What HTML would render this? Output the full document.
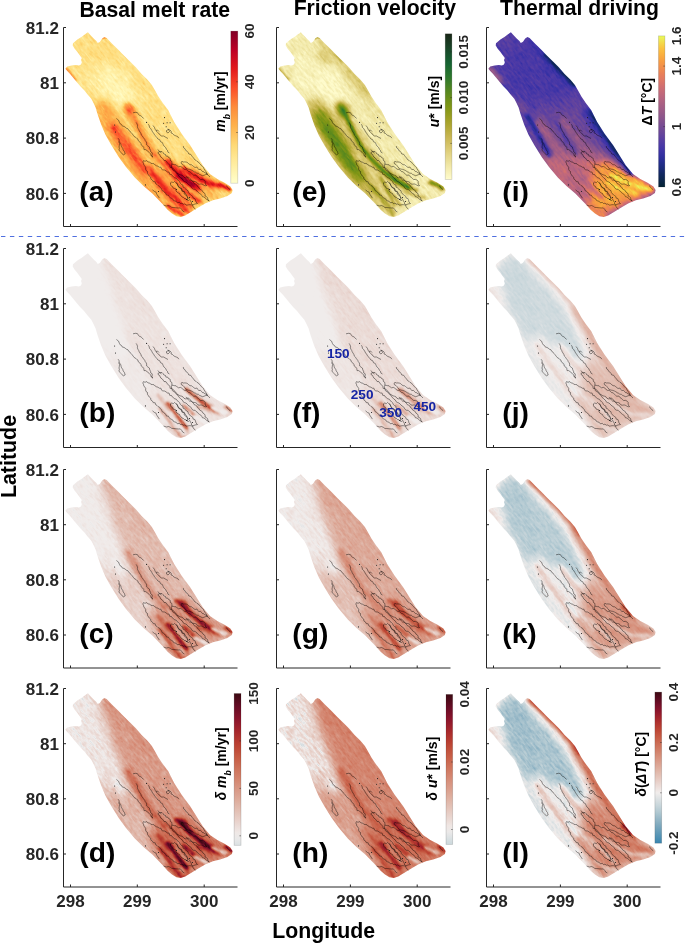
<!DOCTYPE html><html><head><meta charset="utf-8"><style>html,body{margin:0;padding:0;background:#fff;width:685px;height:943px;overflow:hidden}svg{display:block;will-change:transform}text{font-family:"Liberation Sans", sans-serif}</style></head><body>
<svg width="685" height="943" viewBox="0 0 685 943">
<defs><path id="gl" d="M24.4 4.8 L27.8 8.5 L30.7 11.4 L32.9 13.6 L34.3 15.5 L36.5 14.3 L38.7 11.1 L40.9 9.6 L43.1 10.6 L48.9 16.5 L54.8 22.3 L60.6 28.2 L66.5 34.0 L72.3 39.8 L78.1 46.4 L84.0 52.3 L88.4 57.4 L91.3 62.5 L94.9 69.0 L99.3 75.6 L104.8 82.7 L110.7 94.4 L118.0 106.1 L126.7 117.7 L139.2 137.7 L146.5 146.5 L153.8 151.6 L161.1 155.3 L166.9 158.9 L169.1 162.6 L168.4 165.5 L164.0 168.4 L156.7 171.0 L149.4 172.8 L142.1 175.7 L134.8 180.1 L127.5 184.5 L121.7 188.1 L117.3 189.6 L112.9 188.8 L108.5 185.9 L104.1 182.3 L99.5 177.0 L88.8 165.9 L80.0 158.6 L71.3 149.9 L62.5 139.6 L55.2 129.4 L47.9 117.7 L42.1 107.5 L37.7 97.3 L34.0 86.5 L32.1 80.0 L30.0 75.6 L27.8 71.2 L24.1 66.9 L20.5 62.5 L16.8 58.8 L13.2 54.5 L9.5 50.1 L6.6 46.4 L3.7 43.5 L1.9 41.3 L3.7 39.1 L8.1 38.0 L12.4 37.4 L15.4 38.0 L17.5 36.9 L18.3 34.7 L17.5 32.5 L18.3 30.4 L16.1 27.4 L13.9 24.5 L11.0 20.9 L9.2 18.0 L9.5 15.8 L13.9 12.1 L18.3 9.2 L21.2 7.0Z"/><clipPath id="glc"><use href="#gl"/></clipPath><g id="ct"><path d="M69.5,85.3 72.2,84.8 73.9,85.1 74.8,86.6 75.9,87.8 77.4,88.3 78.8,89.6 80.0,91.0M52.9,91.0 55.1,92.7 55.9,94.9 56.7,96.3 58.1,97.1 58.9,98.6 60.5,98.9 61.7,99.7 62.9,100.7 64.5,101.3 65.2,102.8 66.6,103.7 67.5,105.1 68.7,106.3 69.7,107.7 70.7,109.0 72.2,109.8 73.2,110.9 74.5,111.7 74.8,113.3 76.3,114.4 77.4,115.9 77.8,117.6 79.2,118.5 80.3,120.1 80.5,122.1 82.2,122.1 84.4,123.8 85.8,125.0 87.1,126.4 87.7,128.4 89.5,129.6 88.3,128.5 88.7,126.9 88.7,125.3 87.2,124.4 87.1,122.9 86.3,121.4 85.9,119.6 84.4,118.5 83.2,117.5 83.1,115.9 82.8,114.4 81.8,113.3 81.2,111.7 80.0,110.4 79.2,108.9 77.9,107.7 77.4,106.0 76.5,104.5 75.7,103.3 75.2,101.9 74.4,100.7 73.9,99.3 74.0,97.7 73.4,96.2 72.6,94.9M54.6,110.7 55.5,112.0 55.7,113.6 56.4,115.0 57.3,116.3 57.6,117.9 58.1,119.4 59.2,120.7 59.7,122.5 60.8,123.8 61.7,126.4 59.9,127.3 58.6,126.3 57.5,125.0 56.4,123.8 55.4,122.5 55.9,121.0 55.5,119.5 55.8,118.0 56.0,115.9 55.0,114.0M84.4,96.7 85.7,97.9 85.9,99.8 87.1,101.0 88.2,102.7 89.1,104.5 90.1,105.6 90.7,107.0 91.8,108.0 92.6,109.2 93.6,110.3 94.4,111.5 96.3,112.3 97.0,114.2 98.8,115.0 99.6,116.8 100.2,118.2 101.4,119.2 102.3,120.3 102.9,121.8 104.0,122.9 104.4,124.6 106.0,125.5M89.5,98.0 91.0,100.0 91.5,101.6 92.5,103.0 93.0,104.0 95.0,105.5 96.5,107.5 98.0,108.5 100.0,108.5 102.3,109.8 104.5,111.0M92.5,103.0 94.0,102.5 95.5,104.0M104.0,101.5 106.5,102.5 107.7,103.7 107.5,105.4 109.0,106.0 110.1,107.2 111.4,108.0 112.8,108.5 114.4,109.3 115.4,110.7M103.0,103.0 103.1,104.6 104.5,105.5 106.0,104.0 105.0,102.0 103.0,103.0M119.8,118.5 120.0,120.2 121.5,121.2 122.1,122.8 123.6,123.7 124.6,125.0 125.3,126.5 127.2,126.8 128.1,128.1 129.0,129.4 130.1,130.5 130.9,131.9 132.3,132.7 133.4,133.8 134.9,134.5 135.8,135.8 136.9,136.8 137.8,138.1 138.9,139.0 140.0,140.0 140.5,141.3 141.3,142.5 142.2,143.8 143.0,145.1 143.5,146.7 144.8,147.8 146.5,149.5M117.6,134.6 118.5,133.8 119.9,134.5 121.4,134.4 122.9,134.6 124.2,135.2 125.3,136.3 126.5,137.2 128.1,137.3 129.2,138.2 130.3,139.1 131.5,140.0 133.4,139.5 134.3,140.8 135.2,142.0 136.9,141.9 138.0,142.9 138.9,144.0 140.4,144.3 141.4,145.4 143.1,145.6 143.9,146.9 142.1,147.1 140.4,147.8 138.8,148.2 137.4,147.4 136.0,146.9 134.9,145.8 133.3,145.7 132.2,144.8 130.8,144.3 129.4,143.3 127.9,142.5 126.3,141.9 124.6,141.6 122.7,141.0 121.7,139.4 120.3,138.1 119.4,137.0 117.9,136.2 117.6,134.6M108.4,136.6 109.8,136.9 111.2,137.2 112.6,137.3 113.7,138.5 115.0,139.3 117.0,138.9 118.3,139.7 119.5,140.8 120.8,141.8 122.6,141.9 123.9,142.8 125.0,144.1 126.7,144.3 127.8,145.6 129.0,146.8 130.3,147.8 132.4,147.5 133.4,149.0 134.8,149.8 135.9,151.0 137.2,152.1 139.1,151.9 140.6,152.6 141.7,153.9 141.6,155.5 142.0,156.9 143.1,158.1 141.6,158.3 140.3,157.6 139.0,156.9 137.6,156.4 136.1,156.7 134.5,156.5 133.5,155.1 132.2,154.2 130.6,153.9 128.9,153.8 127.8,152.6 126.1,152.6 124.9,151.5 123.9,150.1 121.9,150.4 120.5,149.8 119.5,148.4 118.0,147.7 116.4,147.3 115.1,146.4 113.6,145.7 112.6,144.2 111.6,143.1 110.7,141.9 109.4,141.2 108.4,140.1 107.8,138.3 108.4,136.6M94.5,124.8 96.4,124.1 98.5,124.0 99.6,125.1 100.4,126.5 102.0,127.0 102.4,128.6 104.3,128.7 105.0,130.0 106.7,130.8 106.9,133.0 108.4,134.0 108.4,136.6M94.5,124.8 94.8,126.3 96.2,127.0 96.7,128.4 97.4,129.6 98.7,130.4 99.7,131.6 100.5,133.0 102.5,133.2 103.4,134.5 104.2,135.9 105.4,136.8 106.5,137.9 106.5,139.8 108.5,140.1 108.7,141.9 109.8,142.9 111.4,143.5 112.2,144.9 113.2,146.1 114.6,146.9 115.3,148.4 116.4,149.5 117.5,150.7 118.9,151.6 119.5,153.1 120.9,154.0 122.4,154.5 123.5,155.4 124.5,156.6 125.6,157.5 126.9,158.2 127.8,159.5 128.6,160.9 129.8,161.7 131.7,161.8 132.6,163.0 133.9,163.7 134.8,165.0 136.0,165.9 137.3,166.6 138.2,167.8 139.0,169.3 140.7,169.5 141.7,170.6 142.9,171.7 144.3,172.6 145.8,173.4M80.0,133.1 81.5,133.8 83.3,133.1 84.6,134.5 86.2,134.5 87.3,135.8 88.9,136.0 90.5,136.3 91.6,137.5 93.0,138.3 94.5,138.7 95.7,139.7 97.4,139.7 98.0,141.6 99.3,142.4 101.0,142.5 102.5,143.3 103.7,144.4 105.6,144.6 106.2,146.8 108.0,147.0 108.8,148.4 110.1,149.2 111.0,150.3 112.7,150.6 113.5,152.0 114.9,153.0 116.1,154.2 116.8,155.9 118.0,157.0 119.5,157.7 119.5,159.6 121.0,160.3 122.1,161.3 123.0,162.5 124.5,163.2 124.8,164.9 125.6,166.1 126.8,167.0 128.0,168.0 129.3,168.9 129.7,170.6 131.4,171.0 132.0,172.5 132.5,174.5 134.0,176.0 132.0,176.4 130.0,177.0 128.5,177.5 127.0,177.2 125.5,177.2 124.0,177.5 122.5,177.6 121.3,176.4 119.8,176.7 118.5,175.7 117.0,176.0 115.8,174.9 113.8,175.3 112.7,173.8 111.2,173.4 109.9,172.8 109.2,171.4 107.9,170.8 106.7,170.1 105.6,169.2 104.9,167.7 102.9,167.5 102.4,165.8 101.0,165.0 100.1,163.7 98.5,163.1 98.1,161.2 96.8,160.3 96.1,158.8 94.5,158.1 93.5,156.9 92.1,156.1 91.7,154.3 89.7,154.1 89.0,152.6 87.4,151.6 87.2,149.6 85.7,148.5 84.8,147.0 83.9,145.7 84.0,144.0 82.5,143.0 82.1,141.5 82.2,139.9 81.3,138.6 80.3,137.4 80.0,135.9 79.3,134.5 80.0,133.1M107.0,155.3 108.2,154.5 109.9,155.1 111.0,154.0 112.1,155.0 113.4,155.9 114.2,157.2 115.0,158.5 115.6,160.2 117.7,160.7 118.0,162.7 119.5,163.7 120.8,164.6 120.7,166.5 122.1,167.3 123.0,168.5 124.3,169.7 123.7,171.8 125.0,173.0 123.6,172.5 122.5,171.3 121.0,171.0 120.0,170.0 118.5,169.5 117.6,168.4 116.6,167.4 116.0,166.0 114.6,165.4 113.5,164.5 112.5,163.5 112.5,161.5 111.0,161.0 109.5,160.5 109.0,159.0 107.6,158.4 107.0,157.0 107.0,155.3M112.6,155.3 113.8,156.1 114.0,157.8 114.7,159.1 116.2,159.8 117.0,160.9 118.6,161.5 118.5,163.7 120.7,163.7 121.4,165.2 122.3,166.4 123.3,167.8 123.8,169.6 125.0,170.9 126.4,172.0 126.9,173.5 127.9,174.7 128.0,176.4 129.2,177.5 129.6,179.2 130.6,180.6 132.0,181.7M122.3,148.4 123.5,149.6 125.4,149.7 126.4,151.2 127.7,152.1 128.7,153.4 129.8,154.5 130.5,156.0 132.0,156.7 133.4,157.5 134.0,159.1 135.4,159.9 136.1,161.5 137.5,162.3 138.8,163.1 139.4,164.6 140.8,165.4 141.6,166.6 141.6,168.5 143.1,169.2 144.2,170.4 144.4,172.3 145.8,173.4M100.1,177.5 101.5,178.0 103.0,178.5 105.1,178.0 107.0,178.9 108.3,179.9 110.0,180.0 112.6,180.3 115.0,180.5 116.8,180.4 118.1,181.7 119.1,183.5 120.9,184.5M89.0,162.3 91.0,164.0 92.6,164.7 93.1,166.4 94.5,168.5 95.9,170.6M162.5,158.1 164.5,160.0 165.4,161.3 166.7,162.3M94.4,122.0 96.0,124.0 98.0,125.5" fill="none" stroke="#000" stroke-width="0.48" stroke-linejoin="miter" stroke-opacity="0.9"/><g fill="#1a1a1a"><circle cx="101.0" cy="90.1" r="0.55"/><circle cx="100.1" cy="95.8" r="0.55"/><circle cx="103.6" cy="95.3" r="0.55"/><circle cx="106.6" cy="95.3" r="0.55"/><circle cx="102.7" cy="99.3" r="0.55"/><circle cx="51.1" cy="97.5" r="0.55"/><circle cx="52.0" cy="104.5" r="0.55"/><circle cx="81.9" cy="157.4" r="0.55"/><circle cx="83.1" cy="94.9" r="0.55"/><circle cx="95.0" cy="164.0" r="0.55"/><circle cx="123.0" cy="172.0" r="0.55"/><circle cx="126.0" cy="170.0" r="0.55"/><circle cx="129.0" cy="174.0" r="0.55"/><circle cx="113.0" cy="162.0" r="0.55"/></g></g><filter id="cm_a" filterUnits="userSpaceOnUse" x="-10" y="-150" width="290" height="290" color-interpolation-filters="sRGB"><feTurbulence type="fractalNoise" baseFrequency="0.06 0.5" numOctaves="2" seed="3" result="n1"/><feTurbulence type="fractalNoise" baseFrequency="0.22 0.55" numOctaves="2" seed="14" result="n2"/><feComposite in="n1" in2="n2" operator="arithmetic" k1="0" k2="0.5" k3="0.5" k4="0" result="n"/><feColorMatrix in="n" type="matrix" values="1 0 0 0 0  1 0 0 0 0  1 0 0 0 0  0 0 0 0 1" result="ng"/><feComposite in="SourceGraphic" in2="ng" operator="arithmetic" k1="0" k2="1" k3="0.390" k4="-0.195" result="s"/><feComponentTransfer in="s"><feFuncR type="table" tableValues="1.000 1.000 1.000 1.000 1.000 1.000 1.000 0.999 0.999 0.998 0.997 0.997 0.996 0.996 0.996 0.996 0.996 0.996 0.996 0.995 0.995 0.994 0.993 0.993 0.992 0.991 0.991 0.990 0.990 0.989 0.988 0.971 0.956 0.940 0.922 0.906 0.891 0.863 0.840 0.817 0.793 0.765 0.742 0.705 0.660 0.622 0.585 0.539 0.502"/><feFuncG type="table" tableValues="1.000 0.989 0.976 0.965 0.953 0.940 0.929 0.917 0.904 0.890 0.877 0.865 0.850 0.826 0.802 0.773 0.749 0.725 0.696 0.674 0.651 0.623 0.601 0.578 0.549 0.510 0.472 0.433 0.386 0.348 0.309 0.270 0.238 0.206 0.168 0.136 0.104 0.084 0.068 0.052 0.036 0.016 0.000 0.000 0.000 0.000 0.000 0.000 0.000"/><feFuncB type="table" tableValues="0.800 0.773 0.740 0.713 0.686 0.654 0.627 0.601 0.575 0.544 0.518 0.492 0.461 0.436 0.410 0.379 0.353 0.327 0.297 0.287 0.278 0.266 0.256 0.246 0.234 0.223 0.212 0.201 0.188 0.177 0.166 0.155 0.146 0.138 0.127 0.119 0.110 0.117 0.123 0.129 0.135 0.143 0.149 0.149 0.149 0.149 0.149 0.149 0.149"/><feFuncA type="linear" slope="0" intercept="1"/></feComponentTransfer></filter><filter id="cm_e" filterUnits="userSpaceOnUse" x="-10" y="-150" width="290" height="290" color-interpolation-filters="sRGB"><feTurbulence type="fractalNoise" baseFrequency="0.06 0.5" numOctaves="2" seed="4" result="n1"/><feTurbulence type="fractalNoise" baseFrequency="0.22 0.55" numOctaves="2" seed="15" result="n2"/><feComposite in="n1" in2="n2" operator="arithmetic" k1="0" k2="0.5" k3="0.5" k4="0" result="n"/><feColorMatrix in="n" type="matrix" values="1 0 0 0 0  1 0 0 0 0  1 0 0 0 0  0 0 0 0 1" result="ng"/><feComposite in="SourceGraphic" in2="ng" operator="arithmetic" k1="0" k2="1" k3="0.286" k4="-0.143" result="s"/><feComponentTransfer in="s"><feFuncR type="table" tableValues="1.000 0.988 0.975 0.963 0.952 0.937 0.923 0.909 0.896 0.879 0.863 0.845 0.823 0.804 0.786 0.759 0.733 0.708 0.678 0.652 0.624 0.590 0.562 0.533 0.499 0.468 0.437 0.407 0.370 0.338 0.305 0.266 0.233 0.200 0.167 0.148 0.128 0.105 0.086 0.081 0.085 0.089 0.093 0.097 0.098 0.098 0.098 0.098 0.098"/><feFuncG type="table" tableValues="0.988 0.971 0.951 0.934 0.917 0.896 0.877 0.858 0.839 0.815 0.796 0.777 0.754 0.735 0.715 0.696 0.682 0.669 0.652 0.638 0.628 0.617 0.608 0.598 0.587 0.576 0.566 0.555 0.542 0.531 0.519 0.504 0.492 0.479 0.462 0.445 0.428 0.408 0.391 0.371 0.350 0.324 0.302 0.281 0.252 0.228 0.203 0.174 0.149"/><feFuncB type="table" tableValues="0.804 0.773 0.736 0.705 0.675 0.637 0.602 0.567 0.533 0.491 0.458 0.425 0.387 0.354 0.322 0.285 0.256 0.227 0.192 0.163 0.146 0.129 0.115 0.101 0.087 0.093 0.099 0.105 0.113 0.120 0.131 0.145 0.157 0.168 0.178 0.182 0.186 0.191 0.195 0.191 0.184 0.175 0.167 0.159 0.144 0.131 0.117 0.100 0.086"/><feFuncA type="linear" slope="0" intercept="1"/></feComponentTransfer></filter><filter id="cm_i" filterUnits="userSpaceOnUse" x="-10" y="-150" width="290" height="290" color-interpolation-filters="sRGB"><feTurbulence type="fractalNoise" baseFrequency="0.06 0.5" numOctaves="2" seed="5" result="n1"/><feTurbulence type="fractalNoise" baseFrequency="0.22 0.55" numOctaves="2" seed="16" result="n2"/><feComposite in="n1" in2="n2" operator="arithmetic" k1="0" k2="0.5" k3="0.5" k4="0" result="n"/><feColorMatrix in="n" type="matrix" values="1 0 0 0 0  1 0 0 0 0  1 0 0 0 0  0 0 0 0 1" result="ng"/><feComposite in="SourceGraphic" in2="ng" operator="arithmetic" k1="0" k2="1" k3="0.260" k4="-0.130" result="s"/><feComponentTransfer in="s"><feFuncR type="table" tableValues="0.016 0.028 0.042 0.054 0.068 0.089 0.107 0.125 0.147 0.175 0.199 0.223 0.256 0.284 0.312 0.346 0.373 0.400 0.432 0.459 0.486 0.518 0.545 0.571 0.603 0.629 0.655 0.681 0.712 0.738 0.764 0.795 0.821 0.847 0.873 0.893 0.913 0.935 0.946 0.957 0.968 0.977 0.979 0.981 0.984 0.971 0.952 0.929 0.910"/><feFuncG type="table" tableValues="0.137 0.142 0.148 0.153 0.158 0.163 0.167 0.171 0.176 0.183 0.189 0.195 0.208 0.220 0.232 0.247 0.259 0.271 0.285 0.297 0.308 0.321 0.332 0.342 0.354 0.364 0.374 0.383 0.394 0.403 0.412 0.426 0.437 0.448 0.467 0.485 0.503 0.526 0.555 0.584 0.613 0.650 0.684 0.718 0.759 0.808 0.862 0.926 0.980"/><feFuncB type="table" tableValues="0.200 0.241 0.290 0.331 0.374 0.432 0.480 0.528 0.565 0.598 0.626 0.654 0.655 0.651 0.647 0.639 0.625 0.611 0.594 0.582 0.572 0.560 0.550 0.543 0.535 0.528 0.520 0.511 0.501 0.492 0.479 0.457 0.439 0.421 0.394 0.370 0.346 0.318 0.298 0.278 0.258 0.244 0.246 0.248 0.250 0.270 0.297 0.330 0.357"/><feFuncA type="linear" slope="0" intercept="1"/></feComponentTransfer></filter><filter id="cm_b" filterUnits="userSpaceOnUse" x="-10" y="-150" width="290" height="290" color-interpolation-filters="sRGB"><feTurbulence type="fractalNoise" baseFrequency="0.06 0.5" numOctaves="2" seed="3" result="n1"/><feTurbulence type="fractalNoise" baseFrequency="0.22 0.55" numOctaves="2" seed="14" result="n2"/><feComposite in="n1" in2="n2" operator="arithmetic" k1="0" k2="0.5" k3="0.5" k4="0" result="n"/><feColorMatrix in="n" type="matrix" values="1 0 0 0 0  1 0 0 0 0  1 0 0 0 0  0 0 0 0 1" result="ng"/><feComposite in="SourceGraphic" in2="ng" operator="arithmetic" k1="0" k2="1" k3="0.182" k4="-0.091" result="s"/><feComponentTransfer in="s"><feFuncR type="table" tableValues="0.111 0.132 0.179 0.221 0.295 0.378 0.449 0.514 0.579 0.638 0.691 0.737 0.773 0.803 0.833 0.859 0.879 0.894 0.910 0.920 0.930 0.935 0.940 0.940 0.945 0.945 0.945 0.944 0.942 0.940 0.937 0.933 0.929 0.923 0.917 0.909 0.902 0.894 0.885 0.875 0.865 0.854 0.843 0.829 0.813 0.794 0.770 0.736 0.683"/><feFuncG type="table" tableValues="0.367 0.424 0.474 0.518 0.559 0.601 0.636 0.673 0.714 0.751 0.784 0.812 0.832 0.849 0.866 0.881 0.892 0.901 0.909 0.915 0.921 0.924 0.927 0.927 0.929 0.929 0.929 0.925 0.921 0.913 0.905 0.893 0.881 0.864 0.844 0.820 0.797 0.770 0.738 0.702 0.661 0.617 0.572 0.523 0.466 0.407 0.342 0.265 0.190"/><feFuncB type="table" tableValues="0.625 0.655 0.672 0.688 0.703 0.718 0.732 0.751 0.776 0.800 0.820 0.838 0.853 0.866 0.879 0.889 0.898 0.904 0.911 0.915 0.919 0.921 0.923 0.923 0.925 0.925 0.925 0.921 0.916 0.906 0.896 0.881 0.867 0.847 0.822 0.793 0.764 0.729 0.690 0.646 0.597 0.544 0.492 0.437 0.373 0.313 0.255 0.200 0.180"/><feFuncA type="linear" slope="0" intercept="1"/></feComponentTransfer></filter><filter id="cm_f" filterUnits="userSpaceOnUse" x="-10" y="-150" width="290" height="290" color-interpolation-filters="sRGB"><feTurbulence type="fractalNoise" baseFrequency="0.06 0.5" numOctaves="2" seed="4" result="n1"/><feTurbulence type="fractalNoise" baseFrequency="0.22 0.55" numOctaves="2" seed="15" result="n2"/><feComposite in="n1" in2="n2" operator="arithmetic" k1="0" k2="0.5" k3="0.5" k4="0" result="n"/><feColorMatrix in="n" type="matrix" values="1 0 0 0 0  1 0 0 0 0  1 0 0 0 0  0 0 0 0 1" result="ng"/><feComposite in="SourceGraphic" in2="ng" operator="arithmetic" k1="0" k2="1" k3="0.182" k4="-0.091" result="s"/><feComponentTransfer in="s"><feFuncR type="table" tableValues="0.126 0.168 0.207 0.260 0.331 0.402 0.467 0.526 0.585 0.632 0.685 0.726 0.762 0.793 0.823 0.849 0.869 0.889 0.904 0.915 0.925 0.935 0.940 0.940 0.945 0.945 0.945 0.944 0.941 0.938 0.936 0.932 0.926 0.921 0.914 0.907 0.900 0.891 0.884 0.874 0.866 0.856 0.846 0.834 0.820 0.805 0.787 0.762 0.731"/><feFuncG type="table" tableValues="0.418 0.462 0.503 0.542 0.577 0.613 0.645 0.681 0.717 0.747 0.780 0.806 0.826 0.844 0.861 0.875 0.887 0.898 0.907 0.912 0.918 0.924 0.927 0.927 0.929 0.929 0.929 0.925 0.917 0.909 0.901 0.889 0.873 0.856 0.836 0.813 0.789 0.762 0.734 0.698 0.665 0.625 0.584 0.540 0.491 0.441 0.386 0.324 0.256"/><feFuncB type="table" tableValues="0.653 0.668 0.683 0.696 0.710 0.723 0.735 0.756 0.779 0.797 0.818 0.834 0.849 0.862 0.875 0.885 0.894 0.902 0.909 0.913 0.917 0.921 0.923 0.923 0.925 0.925 0.925 0.921 0.911 0.901 0.891 0.876 0.857 0.837 0.813 0.783 0.754 0.719 0.685 0.641 0.602 0.554 0.506 0.455 0.400 0.347 0.292 0.242 0.195"/><feFuncA type="linear" slope="0" intercept="1"/></feComponentTransfer></filter><filter id="cm_j" filterUnits="userSpaceOnUse" x="-10" y="-150" width="290" height="290" color-interpolation-filters="sRGB"><feTurbulence type="fractalNoise" baseFrequency="0.06 0.5" numOctaves="2" seed="5" result="n1"/><feTurbulence type="fractalNoise" baseFrequency="0.22 0.55" numOctaves="2" seed="16" result="n2"/><feComposite in="n1" in2="n2" operator="arithmetic" k1="0" k2="0.5" k3="0.5" k4="0" result="n"/><feColorMatrix in="n" type="matrix" values="1 0 0 0 0  1 0 0 0 0  1 0 0 0 0  0 0 0 0 1" result="ng"/><feComposite in="SourceGraphic" in2="ng" operator="arithmetic" k1="0" k2="1" k3="0.182" k4="-0.091" result="s"/><feComponentTransfer in="s"><feFuncR type="table" tableValues="0.378 0.402 0.425 0.449 0.478 0.502 0.526 0.549 0.579 0.602 0.626 0.650 0.679 0.703 0.726 0.747 0.773 0.793 0.813 0.833 0.859 0.879 0.899 0.920 0.945 0.940 0.934 0.929 0.923 0.917 0.912 0.907 0.902 0.896 0.891 0.887 0.883 0.878 0.873 0.869 0.865 0.860 0.856 0.852 0.848 0.843 0.839 0.834 0.829"/><feFuncG type="table" tableValues="0.601 0.613 0.624 0.636 0.651 0.666 0.681 0.695 0.714 0.728 0.743 0.758 0.776 0.791 0.806 0.818 0.832 0.844 0.855 0.866 0.881 0.892 0.904 0.915 0.929 0.913 0.897 0.881 0.864 0.844 0.828 0.813 0.797 0.778 0.762 0.747 0.730 0.710 0.694 0.678 0.661 0.641 0.625 0.609 0.592 0.572 0.556 0.540 0.523"/><feFuncB type="table" tableValues="0.718 0.723 0.727 0.732 0.737 0.746 0.756 0.765 0.776 0.786 0.795 0.804 0.816 0.825 0.834 0.843 0.853 0.862 0.870 0.879 0.889 0.898 0.906 0.915 0.925 0.906 0.886 0.867 0.847 0.822 0.803 0.783 0.764 0.739 0.719 0.700 0.680 0.656 0.636 0.616 0.597 0.573 0.554 0.535 0.516 0.492 0.473 0.455 0.437"/><feFuncA type="linear" slope="0" intercept="1"/></feComponentTransfer></filter><filter id="cm_c" filterUnits="userSpaceOnUse" x="-10" y="-150" width="290" height="290" color-interpolation-filters="sRGB"><feTurbulence type="fractalNoise" baseFrequency="0.06 0.5" numOctaves="2" seed="3" result="n1"/><feTurbulence type="fractalNoise" baseFrequency="0.22 0.55" numOctaves="2" seed="14" result="n2"/><feComposite in="n1" in2="n2" operator="arithmetic" k1="0" k2="0.5" k3="0.5" k4="0" result="n"/><feColorMatrix in="n" type="matrix" values="1 0 0 0 0  1 0 0 0 0  1 0 0 0 0  0 0 0 0 1" result="ng"/><feComposite in="SourceGraphic" in2="ng" operator="arithmetic" k1="0" k2="1" k3="0.182" k4="-0.091" result="s"/><feComponentTransfer in="s"><feFuncR type="table" tableValues="0.108 0.115 0.116 0.114 0.112 0.110 0.143 0.173 0.204 0.242 0.307 0.366 0.425 0.484 0.543 0.597 0.650 0.703 0.752 0.793 0.828 0.864 0.894 0.925 0.945 0.941 0.933 0.925 0.915 0.907 0.897 0.887 0.878 0.868 0.859 0.849 0.839 0.827 0.815 0.801 0.786 0.766 0.744 0.712 0.673 0.626 0.565 0.489 0.414"/><feFuncG type="table" tableValues="0.188 0.226 0.271 0.315 0.356 0.400 0.435 0.468 0.500 0.533 0.565 0.595 0.624 0.655 0.692 0.725 0.758 0.791 0.821 0.844 0.864 0.884 0.901 0.918 0.929 0.917 0.893 0.869 0.840 0.813 0.782 0.747 0.710 0.673 0.637 0.596 0.556 0.515 0.475 0.429 0.382 0.333 0.283 0.229 0.176 0.135 0.094 0.067 0.051"/><feFuncB type="table" tableValues="0.427 0.505 0.560 0.590 0.617 0.647 0.659 0.670 0.682 0.693 0.705 0.716 0.727 0.740 0.763 0.783 0.804 0.825 0.845 0.862 0.877 0.892 0.904 0.917 0.925 0.911 0.881 0.852 0.818 0.783 0.744 0.700 0.656 0.612 0.568 0.521 0.473 0.428 0.382 0.334 0.288 0.248 0.213 0.189 0.177 0.173 0.173 0.163 0.148"/><feFuncA type="linear" slope="0" intercept="1"/></feComponentTransfer></filter><filter id="cm_g" filterUnits="userSpaceOnUse" x="-10" y="-150" width="290" height="290" color-interpolation-filters="sRGB"><feTurbulence type="fractalNoise" baseFrequency="0.06 0.5" numOctaves="2" seed="4" result="n1"/><feTurbulence type="fractalNoise" baseFrequency="0.22 0.55" numOctaves="2" seed="15" result="n2"/><feComposite in="n1" in2="n2" operator="arithmetic" k1="0" k2="0.5" k3="0.5" k4="0" result="n"/><feColorMatrix in="n" type="matrix" values="1 0 0 0 0  1 0 0 0 0  1 0 0 0 0  0 0 0 0 1" result="ng"/><feComposite in="SourceGraphic" in2="ng" operator="arithmetic" k1="0" k2="1" k3="0.182" k4="-0.091" result="s"/><feComponentTransfer in="s"><feFuncR type="table" tableValues="0.116 0.114 0.113 0.111 0.118 0.143 0.168 0.193 0.218 0.260 0.313 0.366 0.413 0.467 0.520 0.567 0.620 0.667 0.715 0.757 0.798 0.839 0.874 0.910 0.945 0.937 0.928 0.918 0.908 0.899 0.889 0.881 0.872 0.863 0.855 0.846 0.837 0.827 0.816 0.805 0.793 0.781 0.762 0.744 0.721 0.689 0.660 0.615 0.565"/><feFuncG type="table" tableValues="0.271 0.308 0.341 0.374 0.409 0.435 0.462 0.489 0.515 0.542 0.568 0.595 0.619 0.645 0.677 0.706 0.740 0.769 0.799 0.824 0.846 0.869 0.889 0.909 0.929 0.905 0.877 0.848 0.817 0.785 0.754 0.722 0.690 0.653 0.621 0.584 0.548 0.515 0.479 0.441 0.403 0.365 0.324 0.283 0.242 0.198 0.159 0.128 0.094"/><feFuncB type="table" tableValues="0.560 0.585 0.607 0.630 0.650 0.659 0.668 0.678 0.687 0.696 0.706 0.716 0.725 0.735 0.753 0.772 0.793 0.811 0.830 0.847 0.864 0.881 0.896 0.911 0.925 0.896 0.862 0.827 0.788 0.749 0.710 0.670 0.631 0.587 0.549 0.506 0.464 0.428 0.386 0.347 0.309 0.271 0.242 0.213 0.192 0.182 0.173 0.173 0.173"/><feFuncA type="linear" slope="0" intercept="1"/></feComponentTransfer></filter><filter id="cm_k" filterUnits="userSpaceOnUse" x="-10" y="-150" width="290" height="290" color-interpolation-filters="sRGB"><feTurbulence type="fractalNoise" baseFrequency="0.06 0.5" numOctaves="2" seed="5" result="n1"/><feTurbulence type="fractalNoise" baseFrequency="0.22 0.55" numOctaves="2" seed="16" result="n2"/><feComposite in="n1" in2="n2" operator="arithmetic" k1="0" k2="0.5" k3="0.5" k4="0" result="n"/><feColorMatrix in="n" type="matrix" values="1 0 0 0 0  1 0 0 0 0  1 0 0 0 0  0 0 0 0 1" result="ng"/><feComposite in="SourceGraphic" in2="ng" operator="arithmetic" k1="0" k2="1" k3="0.182" k4="-0.091" result="s"/><feComponentTransfer in="s"><feFuncR type="table" tableValues="0.113 0.132 0.151 0.171 0.190 0.209 0.230 0.272 0.313 0.354 0.396 0.437 0.478 0.520 0.561 0.602 0.644 0.685 0.726 0.762 0.798 0.833 0.869 0.904 0.945 0.936 0.926 0.917 0.908 0.900 0.891 0.884 0.876 0.869 0.862 0.855 0.848 0.841 0.833 0.825 0.816 0.808 0.798 0.789 0.779 0.764 0.750 0.736 0.715"/><feFuncG type="table" tableValues="0.403 0.424 0.444 0.465 0.486 0.506 0.527 0.548 0.568 0.589 0.610 0.630 0.651 0.677 0.703 0.728 0.754 0.780 0.806 0.826 0.846 0.866 0.887 0.907 0.929 0.901 0.873 0.844 0.817 0.789 0.762 0.734 0.706 0.678 0.649 0.621 0.592 0.564 0.535 0.507 0.479 0.450 0.420 0.390 0.361 0.329 0.297 0.265 0.234"/><feFuncB type="table" tableValues="0.648 0.655 0.662 0.669 0.676 0.684 0.691 0.699 0.706 0.714 0.722 0.730 0.737 0.753 0.770 0.786 0.802 0.818 0.834 0.849 0.864 0.879 0.894 0.909 0.925 0.891 0.857 0.822 0.788 0.754 0.719 0.685 0.651 0.616 0.582 0.549 0.516 0.483 0.450 0.418 0.386 0.356 0.326 0.296 0.268 0.245 0.223 0.200 0.190"/><feFuncA type="linear" slope="0" intercept="1"/></feComponentTransfer></filter><filter id="cm_d" filterUnits="userSpaceOnUse" x="-10" y="-150" width="290" height="290" color-interpolation-filters="sRGB"><feTurbulence type="fractalNoise" baseFrequency="0.06 0.5" numOctaves="2" seed="3" result="n1"/><feTurbulence type="fractalNoise" baseFrequency="0.22 0.55" numOctaves="2" seed="14" result="n2"/><feComposite in="n1" in2="n2" operator="arithmetic" k1="0" k2="0.5" k3="0.5" k4="0" result="n"/><feColorMatrix in="n" type="matrix" values="1 0 0 0 0  1 0 0 0 0  1 0 0 0 0  0 0 0 0 1" result="ng"/><feComposite in="SourceGraphic" in2="ng" operator="arithmetic" k1="0" k2="1" k3="0.182" k4="-0.091" result="s"/><feComponentTransfer in="s"><feFuncR type="table" tableValues="0.094 0.094 0.100 0.106 0.112 0.117 0.115 0.113 0.111 0.121 0.151 0.182 0.212 0.260 0.325 0.390 0.455 0.520 0.585 0.650 0.715 0.773 0.828 0.884 0.945 0.930 0.915 0.902 0.889 0.878 0.866 0.855 0.844 0.832 0.819 0.805 0.790 0.772 0.750 0.725 0.689 0.651 0.595 0.539 0.464 0.395 0.319 0.242 0.235"/><feFuncG type="table" tableValues="0.110 0.110 0.144 0.179 0.213 0.252 0.293 0.334 0.374 0.412 0.444 0.477 0.509 0.542 0.574 0.607 0.639 0.677 0.717 0.758 0.799 0.832 0.864 0.895 0.929 0.885 0.840 0.797 0.754 0.710 0.665 0.621 0.576 0.531 0.487 0.441 0.395 0.347 0.297 0.247 0.198 0.152 0.114 0.078 0.062 0.047 0.041 0.036 0.035"/><feFuncB type="table" tableValues="0.263 0.263 0.335 0.407 0.479 0.547 0.575 0.602 0.630 0.651 0.662 0.673 0.685 0.696 0.708 0.721 0.733 0.753 0.779 0.804 0.830 0.853 0.877 0.900 0.925 0.872 0.818 0.764 0.710 0.656 0.602 0.549 0.497 0.446 0.396 0.347 0.301 0.258 0.223 0.193 0.182 0.173 0.173 0.172 0.158 0.145 0.109 0.074 0.071"/><feFuncA type="linear" slope="0" intercept="1"/></feComponentTransfer></filter><filter id="cm_h" filterUnits="userSpaceOnUse" x="-10" y="-150" width="290" height="290" color-interpolation-filters="sRGB"><feTurbulence type="fractalNoise" baseFrequency="0.06 0.5" numOctaves="2" seed="4" result="n1"/><feTurbulence type="fractalNoise" baseFrequency="0.22 0.55" numOctaves="2" seed="15" result="n2"/><feComposite in="n1" in2="n2" operator="arithmetic" k1="0" k2="0.5" k3="0.5" k4="0" result="n"/><feColorMatrix in="n" type="matrix" values="1 0 0 0 0  1 0 0 0 0  1 0 0 0 0  0 0 0 0 1" result="ng"/><feComposite in="SourceGraphic" in2="ng" operator="arithmetic" k1="0" k2="1" k3="0.182" k4="-0.091" result="s"/><feComponentTransfer in="s"><feFuncR type="table" tableValues="0.108 0.112 0.116 0.117 0.115 0.114 0.112 0.111 0.121 0.143 0.165 0.190 0.215 0.254 0.307 0.360 0.413 0.473 0.532 0.591 0.656 0.721 0.783 0.849 0.945 0.921 0.904 0.890 0.879 0.867 0.857 0.847 0.837 0.826 0.815 0.804 0.791 0.779 0.760 0.744 0.725 0.696 0.670 0.636 0.595 0.555 0.508 0.464 0.414"/><feFuncG type="table" tableValues="0.188 0.213 0.235 0.263 0.293 0.322 0.352 0.382 0.412 0.435 0.459 0.486 0.512 0.539 0.565 0.592 0.619 0.648 0.684 0.721 0.762 0.802 0.838 0.875 0.929 0.856 0.805 0.758 0.714 0.669 0.629 0.588 0.548 0.511 0.475 0.437 0.399 0.361 0.319 0.283 0.247 0.207 0.172 0.141 0.114 0.087 0.071 0.062 0.051"/><feFuncB type="table" tableValues="0.427 0.479 0.525 0.555 0.575 0.595 0.615 0.635 0.651 0.659 0.667 0.676 0.686 0.695 0.705 0.715 0.725 0.736 0.758 0.781 0.806 0.832 0.858 0.885 0.925 0.837 0.773 0.715 0.661 0.607 0.558 0.511 0.464 0.423 0.382 0.343 0.305 0.268 0.239 0.213 0.193 0.184 0.176 0.173 0.173 0.173 0.166 0.158 0.148"/><feFuncA type="linear" slope="0" intercept="1"/></feComponentTransfer></filter><filter id="cm_l" filterUnits="userSpaceOnUse" x="-10" y="-150" width="290" height="290" color-interpolation-filters="sRGB"><feTurbulence type="fractalNoise" baseFrequency="0.06 0.5" numOctaves="2" seed="5" result="n1"/><feTurbulence type="fractalNoise" baseFrequency="0.22 0.55" numOctaves="2" seed="16" result="n2"/><feComposite in="n1" in2="n2" operator="arithmetic" k1="0" k2="0.5" k3="0.5" k4="0" result="n"/><feColorMatrix in="n" type="matrix" values="1 0 0 0 0  1 0 0 0 0  1 0 0 0 0  0 0 0 0 1" result="ng"/><feComposite in="SourceGraphic" in2="ng" operator="arithmetic" k1="0" k2="1" k3="0.182" k4="-0.091" result="s"/><feComponentTransfer in="s"><feFuncR type="table" tableValues="0.116 0.116 0.115 0.113 0.111 0.110 0.135 0.160 0.185 0.209 0.242 0.289 0.343 0.396 0.449 0.502 0.555 0.608 0.661 0.715 0.762 0.808 0.854 0.899 0.945 0.934 0.922 0.910 0.900 0.889 0.880 0.870 0.861 0.852 0.843 0.833 0.822 0.812 0.801 0.789 0.774 0.756 0.738 0.712 0.683 0.651 0.605 0.560 0.508"/><feFuncG type="table" tableValues="0.235 0.267 0.300 0.334 0.367 0.400 0.427 0.453 0.480 0.506 0.533 0.556 0.583 0.610 0.636 0.666 0.699 0.732 0.765 0.799 0.826 0.852 0.878 0.904 0.929 0.897 0.860 0.824 0.789 0.754 0.718 0.682 0.645 0.609 0.572 0.535 0.499 0.462 0.429 0.390 0.351 0.310 0.269 0.229 0.190 0.152 0.121 0.091 0.071"/><feFuncB type="table" tableValues="0.525 0.557 0.580 0.602 0.625 0.647 0.656 0.665 0.674 0.684 0.693 0.702 0.712 0.722 0.732 0.746 0.767 0.788 0.809 0.830 0.849 0.868 0.887 0.906 0.925 0.886 0.842 0.798 0.754 0.710 0.665 0.621 0.577 0.535 0.492 0.450 0.409 0.368 0.334 0.296 0.261 0.232 0.203 0.189 0.180 0.173 0.173 0.173 0.166"/><feFuncA type="linear" slope="0" intercept="1"/></feComponentTransfer></filter><filter id="b0_6" x="-50%" y="-50%" width="200%" height="200%" color-interpolation-filters="sRGB"><feGaussianBlur stdDeviation="0.60"/></filter><filter id="b0_8" x="-50%" y="-50%" width="200%" height="200%" color-interpolation-filters="sRGB"><feGaussianBlur stdDeviation="0.80"/></filter><filter id="b0_9" x="-50%" y="-50%" width="200%" height="200%" color-interpolation-filters="sRGB"><feGaussianBlur stdDeviation="0.90"/></filter><filter id="b1" x="-50%" y="-50%" width="200%" height="200%" color-interpolation-filters="sRGB"><feGaussianBlur stdDeviation="1.00"/></filter><filter id="b1_2" x="-50%" y="-50%" width="200%" height="200%" color-interpolation-filters="sRGB"><feGaussianBlur stdDeviation="1.20"/></filter><filter id="b1_5" x="-50%" y="-50%" width="200%" height="200%" color-interpolation-filters="sRGB"><feGaussianBlur stdDeviation="1.50"/></filter><filter id="b1_8" x="-50%" y="-50%" width="200%" height="200%" color-interpolation-filters="sRGB"><feGaussianBlur stdDeviation="1.80"/></filter><filter id="b2" x="-50%" y="-50%" width="200%" height="200%" color-interpolation-filters="sRGB"><feGaussianBlur stdDeviation="2.00"/></filter><filter id="b2_5" x="-50%" y="-50%" width="200%" height="200%" color-interpolation-filters="sRGB"><feGaussianBlur stdDeviation="2.50"/></filter><filter id="b3" x="-50%" y="-50%" width="200%" height="200%" color-interpolation-filters="sRGB"><feGaussianBlur stdDeviation="3.00"/></filter><filter id="b3_5" x="-50%" y="-50%" width="200%" height="200%" color-interpolation-filters="sRGB"><feGaussianBlur stdDeviation="3.50"/></filter><filter id="b4" x="-50%" y="-50%" width="200%" height="200%" color-interpolation-filters="sRGB"><feGaussianBlur stdDeviation="4.00"/></filter><filter id="b4_5" x="-50%" y="-50%" width="200%" height="200%" color-interpolation-filters="sRGB"><feGaussianBlur stdDeviation="4.50"/></filter><filter id="b5" x="-50%" y="-50%" width="200%" height="200%" color-interpolation-filters="sRGB"><feGaussianBlur stdDeviation="5.00"/></filter><filter id="b6" x="-50%" y="-50%" width="200%" height="200%" color-interpolation-filters="sRGB"><feGaussianBlur stdDeviation="6.00"/></filter><filter id="b8" x="-50%" y="-50%" width="200%" height="200%" color-interpolation-filters="sRGB"><feGaussianBlur stdDeviation="8.00"/></filter><linearGradient id="cb1" x1="0" y1="0" x2="0" y2="1"><stop offset="0.000" stop-color="#800026"/><stop offset="0.042" stop-color="#950026"/><stop offset="0.083" stop-color="#a80026"/><stop offset="0.125" stop-color="#bd0026"/><stop offset="0.167" stop-color="#ca0923"/><stop offset="0.208" stop-color="#d6111f"/><stop offset="0.250" stop-color="#e31a1c"/><stop offset="0.292" stop-color="#eb2b21"/><stop offset="0.333" stop-color="#f43d25"/><stop offset="0.375" stop-color="#fc4f2a"/><stop offset="0.417" stop-color="#fc6330"/><stop offset="0.458" stop-color="#fd7836"/><stop offset="0.500" stop-color="#fd8c3c"/><stop offset="0.542" stop-color="#fd9941"/><stop offset="0.583" stop-color="#fea647"/><stop offset="0.625" stop-color="#feb24c"/><stop offset="0.667" stop-color="#febf5a"/><stop offset="0.708" stop-color="#fecc68"/><stop offset="0.750" stop-color="#fed976"/><stop offset="0.792" stop-color="#fee084"/><stop offset="0.833" stop-color="#ffe793"/><stop offset="0.875" stop-color="#ffeda0"/><stop offset="0.917" stop-color="#fff3af"/><stop offset="0.958" stop-color="#fff9bd"/><stop offset="1.000" stop-color="#ffffcc"/></linearGradient><linearGradient id="cb2" x1="0" y1="0" x2="0" y2="1"><stop offset="0.000" stop-color="#192616"/><stop offset="0.042" stop-color="#19341e"/><stop offset="0.083" stop-color="#194025"/><stop offset="0.125" stop-color="#184d2b"/><stop offset="0.167" stop-color="#16592f"/><stop offset="0.208" stop-color="#166432"/><stop offset="0.250" stop-color="#216d2f"/><stop offset="0.292" stop-color="#2b762d"/><stop offset="0.333" stop-color="#3b7d28"/><stop offset="0.375" stop-color="#4e8422"/><stop offset="0.417" stop-color="#5e8a1d"/><stop offset="0.458" stop-color="#709019"/><stop offset="0.500" stop-color="#7f9616"/><stop offset="0.542" stop-color="#8f9b1d"/><stop offset="0.583" stop-color="#9fa025"/><stop offset="0.625" stop-color="#ada631"/><stop offset="0.667" stop-color="#bbae41"/><stop offset="0.708" stop-color="#c8b652"/><stop offset="0.750" stop-color="#d2c063"/><stop offset="0.792" stop-color="#dccb75"/><stop offset="0.833" stop-color="#e4d688"/><stop offset="0.875" stop-color="#ebe09a"/><stop offset="0.917" stop-color="#f3eaac"/><stop offset="0.958" stop-color="#f9f3bc"/><stop offset="1.000" stop-color="#fffccd"/></linearGradient><linearGradient id="cb3" x1="0" y1="0" x2="0" y2="1"><stop offset="0.000" stop-color="#e8fa5b"/><stop offset="0.042" stop-color="#f3dc4c"/><stop offset="0.083" stop-color="#fbc240"/><stop offset="0.125" stop-color="#faaf3f"/><stop offset="0.167" stop-color="#f79c42"/><stop offset="0.208" stop-color="#f18e4c"/><stop offset="0.250" stop-color="#e98058"/><stop offset="0.292" stop-color="#df7765"/><stop offset="0.333" stop-color="#d16f70"/><stop offset="0.375" stop-color="#c3697a"/><stop offset="0.417" stop-color="#b56480"/><stop offset="0.458" stop-color="#a75f85"/><stop offset="0.500" stop-color="#9a5a88"/><stop offset="0.542" stop-color="#8b558c"/><stop offset="0.583" stop-color="#7c4e92"/><stop offset="0.625" stop-color="#6e4997"/><stop offset="0.667" stop-color="#5f429f"/><stop offset="0.708" stop-color="#503ba5"/><stop offset="0.750" stop-color="#4135a7"/><stop offset="0.792" stop-color="#3330a0"/><stop offset="0.833" stop-color="#252d90"/><stop offset="0.875" stop-color="#1b2b7a"/><stop offset="0.917" stop-color="#11285f"/><stop offset="0.958" stop-color="#0b264a"/><stop offset="1.000" stop-color="#042333"/></linearGradient><linearGradient id="cb4" x1="0" y1="0" x2="0" y2="1"><stop offset="0.000" stop-color="#3c0912"/><stop offset="0.042" stop-color="#510b1c"/><stop offset="0.083" stop-color="#650c25"/><stop offset="0.125" stop-color="#761028"/><stop offset="0.167" stop-color="#89142c"/><stop offset="0.208" stop-color="#981d2c"/><stop offset="0.250" stop-color="#a6272c"/><stop offset="0.292" stop-color="#b1342f"/><stop offset="0.333" stop-color="#ba4032"/><stop offset="0.375" stop-color="#c04d3a"/><stop offset="0.417" stop-color="#c65b43"/><stop offset="0.458" stop-color="#ca674f"/><stop offset="0.500" stop-color="#ce745c"/><stop offset="0.542" stop-color="#d27f68"/><stop offset="0.583" stop-color="#d58b75"/><stop offset="0.625" stop-color="#d89784"/><stop offset="0.667" stop-color="#dba291"/><stop offset="0.708" stop-color="#deae9e"/><stop offset="0.750" stop-color="#e1baad"/><stop offset="0.792" stop-color="#e4c5bb"/><stop offset="0.833" stop-color="#e8d0c9"/><stop offset="0.875" stop-color="#ebdcd8"/><stop offset="0.917" stop-color="#efe8e6"/><stop offset="0.958" stop-color="#e9e9e9"/><stop offset="1.000" stop-color="#dbe1e3"/></linearGradient><linearGradient id="cb5" x1="0" y1="0" x2="0" y2="1"><stop offset="0.000" stop-color="#3c0912"/><stop offset="0.042" stop-color="#510b1c"/><stop offset="0.083" stop-color="#660c25"/><stop offset="0.125" stop-color="#791029"/><stop offset="0.167" stop-color="#8c152c"/><stop offset="0.208" stop-color="#9a1f2c"/><stop offset="0.250" stop-color="#a92a2c"/><stop offset="0.292" stop-color="#b3372f"/><stop offset="0.333" stop-color="#bc4534"/><stop offset="0.375" stop-color="#c2533e"/><stop offset="0.417" stop-color="#c85f47"/><stop offset="0.458" stop-color="#cc6c54"/><stop offset="0.500" stop-color="#d07961"/><stop offset="0.542" stop-color="#d4856f"/><stop offset="0.583" stop-color="#d7927e"/><stop offset="0.625" stop-color="#da9d8b"/><stop offset="0.667" stop-color="#ddaa99"/><stop offset="0.708" stop-color="#e0b6a8"/><stop offset="0.750" stop-color="#e3c2b7"/><stop offset="0.792" stop-color="#e7cec6"/><stop offset="0.833" stop-color="#ead9d4"/><stop offset="0.875" stop-color="#efe6e3"/><stop offset="0.917" stop-color="#ebe9e9"/><stop offset="0.958" stop-color="#dbe1e3"/><stop offset="1.000" stop-color="#cbd8dc"/></linearGradient><linearGradient id="cb6" x1="0" y1="0" x2="0" y2="1"><stop offset="0.000" stop-color="#3c0912"/><stop offset="0.042" stop-color="#580b1f"/><stop offset="0.083" stop-color="#730f28"/><stop offset="0.125" stop-color="#8c152c"/><stop offset="0.167" stop-color="#a1232c"/><stop offset="0.208" stop-color="#b1342f"/><stop offset="0.250" stop-color="#bd4635"/><stop offset="0.292" stop-color="#c55842"/><stop offset="0.333" stop-color="#cb6a52"/><stop offset="0.375" stop-color="#d07b64"/><stop offset="0.417" stop-color="#d58c76"/><stop offset="0.458" stop-color="#da9c8a"/><stop offset="0.500" stop-color="#dead9d"/><stop offset="0.542" stop-color="#e2bdb1"/><stop offset="0.583" stop-color="#e7cdc5"/><stop offset="0.625" stop-color="#ecddd9"/><stop offset="0.667" stop-color="#f1edec"/><stop offset="0.708" stop-color="#dce1e3"/><stop offset="0.750" stop-color="#c8d6db"/><stop offset="0.792" stop-color="#b2c9d2"/><stop offset="0.833" stop-color="#9abac8"/><stop offset="0.875" stop-color="#82abbf"/><stop offset="0.917" stop-color="#699eb9"/><stop offset="0.958" stop-color="#5192b4"/><stop offset="1.000" stop-color="#3a86b0"/></linearGradient></defs>
<rect width="685" height="943" fill="#fff"/>
<g transform="translate(63.5,27.5)"><g clip-path="url(#glc)"><g transform="rotate(52)" filter="url(#cm_a)"><g transform="rotate(-52)"><rect x="-20" y="-20" width="220" height="240" fill="rgb(54,54,54)"/><g filter="url(#b8)"><ellipse cx="52.0" cy="64.0" rx="17.0" ry="32.0" transform="rotate(-32.0 52.0 64.0)" fill="rgb(15,15,15)" fill-opacity="0.90"/></g><g filter="url(#b6)"><ellipse cx="22.0" cy="50.0" rx="10.0" ry="12.0" transform="rotate(-40.0 22.0 50.0)" fill="rgb(36,36,36)" fill-opacity="0.60"/><path d="M34.0 90.0 L50.0 100.0 L70.0 125.0 L95.0 150.0 L115.0 170.0 L118.0 189.0 L104.0 182.0 L86.0 166.0 L66.0 146.0 L48.0 122.0 L38.0 104.0Z" fill="rgb(92,92,92)" fill-opacity="0.80"/><ellipse cx="52.0" cy="66.0" rx="14.0" ry="20.0" transform="rotate(-35.0 52.0 66.0)" fill="rgb(15,15,15)" fill-opacity="0.60"/></g><g filter="url(#b5)"><ellipse cx="106.0" cy="92.0" rx="5.0" ry="14.0" transform="rotate(-30.0 106.0 92.0)" fill="rgb(51,51,51)" fill-opacity="0.40"/><path d="M95.0 140.0 L125.0 140.0 L160.0 156.0 L166.0 164.0 L140.0 176.0 L120.0 188.0 L105.0 180.0 L92.0 160.0Z" fill="rgb(107,107,107)" fill-opacity="0.70"/><path d="M40.0 82.0 L50.0 97.0 L62.0 115.0 L74.0 132.0 L86.0 148.0 L98.0 160.0" stroke="rgb(107,107,107)" stroke-width="22.0" stroke-opacity="0.90" fill="none" stroke-linecap="round" stroke-linejoin="round"/></g><g filter="url(#b4)"><ellipse cx="47.0" cy="29.0" rx="5.0" ry="9.0" transform="rotate(-40.0 47.0 29.0)" fill="rgb(66,66,66)" fill-opacity="0.70"/><ellipse cx="80.0" cy="52.0" rx="6.0" ry="11.0" transform="rotate(-40.0 80.0 52.0)" fill="rgb(56,56,56)" fill-opacity="0.50"/></g><g filter="url(#b3)"><path d="M66.0 84.0 L71.0 93.0 L75.0 101.0 L79.0 109.0 L83.0 116.0 L88.0 123.0 L95.0 131.0 L104.0 140.0 L114.0 148.0" stroke="rgb(122,122,122)" stroke-width="8.0" stroke-opacity="0.90" fill="none" stroke-linecap="round" stroke-linejoin="round"/><path d="M124.0 128.0 L134.0 140.0 L146.0 150.0 L156.0 156.0" stroke="rgb(89,89,89)" stroke-width="6.0" stroke-opacity="0.60" fill="none" stroke-linecap="round" stroke-linejoin="round"/></g><g filter="url(#b2_5)"><path d="M50.0 100.0 L60.0 114.0 L70.0 128.0 L82.0 144.0" stroke="rgb(168,168,168)" stroke-width="9.0" stroke-opacity="0.90" fill="none" stroke-linecap="round" stroke-linejoin="round"/><ellipse cx="66.0" cy="82.0" rx="4.5" ry="8.0" transform="rotate(-35.0 66.0 82.0)" fill="rgb(173,173,173)" fill-opacity="0.90"/></g><g filter="url(#b2)"><path d="M58.0 88.0 L64.0 99.0 L71.0 111.0 L78.0 123.0 L85.0 134.0" stroke="rgb(51,51,51)" stroke-width="4.0" stroke-opacity="0.70" fill="none" stroke-linecap="round" stroke-linejoin="round"/><path d="M104.0 134.0 L114.0 145.0 L124.0 154.0 L134.0 161.0" stroke="rgb(217,217,217)" stroke-width="7.0" stroke-opacity="0.90" fill="none" stroke-linecap="round" stroke-linejoin="round"/></g><g filter="url(#b1_5)"><path d="M118.0 143.0 L128.0 148.0 L140.0 154.0 L150.0 158.0" stroke="rgb(199,199,199)" stroke-width="5.0" stroke-opacity="0.80" fill="none" stroke-linecap="round" stroke-linejoin="round"/><path d="M86.0 140.0 L96.0 152.0 L108.0 164.0 L120.0 178.0 L126.0 186.0" stroke="rgb(184,184,184)" stroke-width="4.0" stroke-opacity="0.80" fill="none" stroke-linecap="round" stroke-linejoin="round"/><path d="M100.0 142.0 L112.0 154.0 L124.0 166.0 L136.0 174.0" stroke="rgb(199,199,199)" stroke-width="4.0" stroke-opacity="0.80" fill="none" stroke-linecap="round" stroke-linejoin="round"/><path d="M80.0 160.0 L90.0 170.0 L100.0 180.0 L108.0 186.0" stroke="rgb(158,158,158)" stroke-width="3.0" stroke-opacity="0.70" fill="none" stroke-linecap="round" stroke-linejoin="round"/></g><g filter="url(#b1_2)"><path d="M70.0 90.0 L74.0 98.0 L78.0 106.0 L82.0 114.0 L86.0 121.0 L92.8 129.7 L99.8 136.7" stroke="rgb(148,148,148)" stroke-width="3.0" stroke-opacity="0.80" fill="none" stroke-linecap="round" stroke-linejoin="round"/><path d="M114.0 148.0 L122.0 153.0 L130.0 158.0" stroke="rgb(250,250,250)" stroke-width="4.0" stroke-opacity="0.90" fill="none" stroke-linecap="round" stroke-linejoin="round"/><path d="M128.0 142.0 L140.0 150.0 L152.0 156.0" stroke="rgb(153,153,153)" stroke-width="3.0" stroke-opacity="0.70" fill="none" stroke-linecap="round" stroke-linejoin="round"/><path d="M156.0 157.0 L161.0 159.0 L166.0 162.0" stroke="rgb(230,230,230)" stroke-width="4.0" stroke-opacity="0.90" fill="none" stroke-linecap="round" stroke-linejoin="round"/><path d="M92.0 154.0 L102.0 166.0 L112.0 178.0 L118.0 187.0" stroke="rgb(178,178,178)" stroke-width="3.0" stroke-opacity="0.75" fill="none" stroke-linecap="round" stroke-linejoin="round"/><path d="M110.0 160.0 L120.0 170.0 L128.0 180.0" stroke="rgb(184,184,184)" stroke-width="3.0" stroke-opacity="0.70" fill="none" stroke-linecap="round" stroke-linejoin="round"/><path d="M138.0 162.0 L148.0 160.0 L158.0 160.0" stroke="rgb(128,128,128)" stroke-width="3.0" stroke-opacity="0.60" fill="none" stroke-linecap="round" stroke-linejoin="round"/><path d="M120.0 140.0 L132.0 148.0 L144.0 155.0 L156.0 159.0" stroke="rgb(209,209,209)" stroke-width="3.5" stroke-opacity="0.80" fill="none" stroke-linecap="round" stroke-linejoin="round"/><path d="M88.0 146.0 L100.0 160.0 L112.0 172.0 L122.0 183.0" stroke="rgb(209,209,209)" stroke-width="3.0" stroke-opacity="0.80" fill="none" stroke-linecap="round" stroke-linejoin="round"/><path d="M104.0 178.0 L112.0 184.0 L120.0 188.0" stroke="rgb(204,204,204)" stroke-width="3.0" stroke-opacity="0.80" fill="none" stroke-linecap="round" stroke-linejoin="round"/><path d="M96.0 138.0 L106.0 150.0 L116.0 162.0" stroke="rgb(51,51,51)" stroke-width="3.0" stroke-opacity="0.60" fill="none" stroke-linecap="round" stroke-linejoin="round"/></g><g filter="url(#b0_8)"><path d="M2.5 41.0 L6.6 46.4 L12.0 53.0" stroke="rgb(184,184,184)" stroke-width="2.0" stroke-opacity="0.90" fill="none" stroke-linecap="round" stroke-linejoin="round"/></g><g filter="url(#b0_6)"><path d="M38.7 11.1 L40.9 9.6 L43.0 10.6" stroke="rgb(153,153,153)" stroke-width="1.5" stroke-opacity="0.80" fill="none" stroke-linecap="round" stroke-linejoin="round"/></g></g></g></g><use href="#ct"/></g>
<g transform="translate(276.5,27.5)"><g clip-path="url(#glc)"><g transform="rotate(52)" filter="url(#cm_e)"><g transform="rotate(-52)"><rect x="-20" y="-20" width="220" height="240" fill="rgb(20,20,20)"/><g filter="url(#b8)"><ellipse cx="50.0" cy="62.0" rx="18.0" ry="32.0" transform="rotate(-32.0 50.0 62.0)" fill="rgb(3,3,3)" fill-opacity="0.90"/></g><g filter="url(#b6)"><ellipse cx="28.0" cy="45.0" rx="12.0" ry="16.0" transform="rotate(-35.0 28.0 45.0)" fill="rgb(8,8,8)" fill-opacity="0.70"/><path d="M34.0 90.0 L50.0 100.0 L70.0 125.0 L95.0 150.0 L115.0 170.0 L118.0 189.0 L104.0 182.0 L86.0 166.0 L66.0 146.0 L48.0 122.0 L38.0 104.0Z" fill="rgb(51,51,51)" fill-opacity="0.70"/></g><g filter="url(#b5)"><path d="M50.0 20.0 L62.0 32.0 L74.0 45.0 L86.0 60.0 L96.0 76.0" stroke="rgb(51,51,51)" stroke-width="10.0" stroke-opacity="0.60" fill="none" stroke-linecap="round" stroke-linejoin="round"/><ellipse cx="106.0" cy="92.0" rx="5.0" ry="14.0" transform="rotate(-30.0 106.0 92.0)" fill="rgb(51,51,51)" fill-opacity="0.40"/><path d="M40.0 82.0 L50.0 97.0 L62.0 115.0 L74.0 132.0 L86.0 148.0 L96.0 158.0" stroke="rgb(87,87,87)" stroke-width="22.0" stroke-opacity="0.90" fill="none" stroke-linecap="round" stroke-linejoin="round"/></g><g filter="url(#b4)"><ellipse cx="47.0" cy="29.0" rx="5.0" ry="9.0" transform="rotate(-40.0 47.0 29.0)" fill="rgb(76,76,76)" fill-opacity="0.70"/><ellipse cx="78.0" cy="50.0" rx="6.0" ry="11.0" transform="rotate(-40.0 78.0 50.0)" fill="rgb(71,71,71)" fill-opacity="0.60"/></g><g filter="url(#b3_5)"><path d="M44.0 90.0 L54.0 106.0 L64.0 121.0 L74.0 136.0 L84.0 148.0" stroke="rgb(138,138,138)" stroke-width="15.0" stroke-opacity="0.90" fill="none" stroke-linecap="round" stroke-linejoin="round"/></g><g filter="url(#b3)"><ellipse cx="88.0" cy="63.0" rx="4.0" ry="8.0" transform="rotate(-40.0 88.0 63.0)" fill="rgb(76,76,76)" fill-opacity="0.60"/><path d="M45.0 14.0 L60.0 28.0 L75.0 42.0 L88.0 58.0" stroke="rgb(71,71,71)" stroke-width="6.0" stroke-opacity="0.60" fill="none" stroke-linecap="round" stroke-linejoin="round"/><path d="M78.0 124.0 L88.0 138.0 L98.0 152.0 L106.0 164.0" stroke="rgb(26,26,26)" stroke-width="7.0" stroke-opacity="0.70" fill="none" stroke-linecap="round" stroke-linejoin="round"/><path d="M66.0 84.0 L72.0 95.0 L77.0 105.0 L82.0 114.0 L88.0 123.0 L96.0 132.0 L106.0 142.0 L118.0 151.0 L128.0 158.0" stroke="rgb(97,97,97)" stroke-width="10.0" stroke-opacity="0.80" fill="none" stroke-linecap="round" stroke-linejoin="round"/><path d="M72.0 150.0 L84.0 163.0 L96.0 175.0 L106.0 184.0" stroke="rgb(82,82,82)" stroke-width="7.0" stroke-opacity="0.60" fill="none" stroke-linecap="round" stroke-linejoin="round"/></g><g filter="url(#b2_5)"><ellipse cx="66.0" cy="82.0" rx="5.5" ry="9.0" transform="rotate(-35.0 66.0 82.0)" fill="rgb(158,158,158)" fill-opacity="0.90"/></g><g filter="url(#b2)"><path d="M50.0 100.0 L60.0 115.0 L70.0 130.0 L76.0 139.0" stroke="rgb(158,158,158)" stroke-width="6.0" stroke-opacity="0.80" fill="none" stroke-linecap="round" stroke-linejoin="round"/></g><g filter="url(#b1_2)"><path d="M112.0 146.0 L122.0 153.0 L132.0 159.0 L140.0 163.0" stroke="rgb(153,153,153)" stroke-width="3.0" stroke-opacity="0.70" fill="none" stroke-linecap="round" stroke-linejoin="round"/><path d="M118.0 152.0 L126.0 157.0 L134.0 162.0" stroke="rgb(140,140,140)" stroke-width="3.0" stroke-opacity="0.70" fill="none" stroke-linecap="round" stroke-linejoin="round"/><path d="M154.0 155.0 L160.0 157.0 L166.0 161.0" stroke="rgb(153,153,153)" stroke-width="4.0" stroke-opacity="0.90" fill="none" stroke-linecap="round" stroke-linejoin="round"/><path d="M92.0 156.0 L102.0 166.0 L112.0 178.0 L118.0 187.0" stroke="rgb(115,115,115)" stroke-width="3.0" stroke-opacity="0.70" fill="none" stroke-linecap="round" stroke-linejoin="round"/><path d="M104.0 150.0 L110.0 160.0 L114.0 170.0 L118.0 178.0" stroke="rgb(128,128,128)" stroke-width="3.0" stroke-opacity="0.70" fill="none" stroke-linecap="round" stroke-linejoin="round"/></g><g filter="url(#b1)"><path d="M66.0 82.0 L70.0 90.0 L74.0 98.0 L78.0 106.0 L82.0 114.0 L86.0 121.0 L92.8 129.7 L99.8 136.7 L108.5 144.9 L116.0 151.0 L124.0 156.0 L132.0 160.0" stroke="rgb(184,184,184)" stroke-width="3.0" stroke-opacity="0.90" fill="none" stroke-linecap="round" stroke-linejoin="round"/><path d="M96.0 160.0 L104.0 170.0 L110.0 180.0 L116.0 188.0" stroke="rgb(128,128,128)" stroke-width="2.5" stroke-opacity="0.70" fill="none" stroke-linecap="round" stroke-linejoin="round"/><path d="M110.0 162.0 L118.0 170.0 L124.0 178.0" stroke="rgb(122,122,122)" stroke-width="2.5" stroke-opacity="0.70" fill="none" stroke-linecap="round" stroke-linejoin="round"/><path d="M128.0 164.0 L138.0 168.0 L148.0 170.0" stroke="rgb(115,115,115)" stroke-width="2.5" stroke-opacity="0.60" fill="none" stroke-linecap="round" stroke-linejoin="round"/></g><g filter="url(#b0_8)"><path d="M2.5 41.0 L6.6 46.4 L12.0 53.0" stroke="rgb(128,128,128)" stroke-width="2.0" stroke-opacity="0.90" fill="none" stroke-linecap="round" stroke-linejoin="round"/><path d="M60.0 28.0 L66.0 34.0" stroke="rgb(115,115,115)" stroke-width="2.0" stroke-opacity="0.70" fill="none" stroke-linecap="round" stroke-linejoin="round"/></g><g filter="url(#b0_6)"><path d="M38.7 11.1 L40.9 9.6 L43.0 10.6" stroke="rgb(128,128,128)" stroke-width="1.5" stroke-opacity="0.80" fill="none" stroke-linecap="round" stroke-linejoin="round"/></g></g></g></g><use href="#ct"/></g>
<g transform="translate(486.5,27.5)"><g clip-path="url(#glc)"><g transform="rotate(52)" filter="url(#cm_i)"><g transform="rotate(-52)"><rect x="-20" y="-20" width="220" height="240" fill="rgb(76,76,76)"/><g filter="url(#b8)"><ellipse cx="50.0" cy="55.0" rx="25.0" ry="40.0" transform="rotate(-35.0 50.0 55.0)" fill="rgb(66,66,66)" fill-opacity="0.70"/><path d="M40.0 80.0 L95.0 75.0 L125.0 120.0 L130.0 140.0 L75.0 150.0 L45.0 120.0Z" fill="rgb(97,97,97)" fill-opacity="0.90"/></g><g filter="url(#b6)"><path d="M50.0 120.0 L70.0 130.0 L90.0 150.0 L100.0 175.0 L85.0 165.0 L65.0 145.0Z" fill="rgb(122,122,122)" fill-opacity="0.80"/><path d="M50.0 128.0 L110.0 125.0 L145.0 146.0 L166.0 158.0 L167.0 165.0 L142.0 176.0 L118.0 189.0 L100.0 180.0 L70.0 158.0Z" fill="rgb(168,168,168)" fill-opacity="0.90"/></g><g filter="url(#b4)"><path d="M108.5 136.0 L121.7 133.2 L143.6 146.3 L166.9 158.0 L166.9 165.3 L142.1 175.5 L129.0 181.3 L117.3 188.6 L102.7 181.3 L99.8 177.0Z" fill="rgb(219,219,219)" fill-opacity="0.90"/></g><g filter="url(#b3)"><path d="M46.0 15.0 L54.0 22.0 L62.0 31.0 L72.0 42.0 L82.0 54.0" stroke="rgb(43,43,43)" stroke-width="8.0" stroke-opacity="0.70" fill="none" stroke-linecap="round" stroke-linejoin="round"/><path d="M100.0 84.0 L106.0 94.0 L114.0 104.0 L122.0 115.0 L130.0 126.0 L138.0 136.0 L144.0 144.0" stroke="rgb(43,43,43)" stroke-width="8.0" stroke-opacity="0.70" fill="none" stroke-linecap="round" stroke-linejoin="round"/></g><g filter="url(#b2_5)"><path d="M52.0 96.0 L60.0 106.0 L68.0 117.0 L76.0 128.0 L84.0 138.0 L92.0 148.0" stroke="rgb(143,143,143)" stroke-width="9.0" stroke-opacity="0.85" fill="none" stroke-linecap="round" stroke-linejoin="round"/></g><g filter="url(#b2)"><path d="M3.0 41.0 L8.0 47.0 L14.0 54.0" stroke="rgb(153,153,153)" stroke-width="5.0" stroke-opacity="0.80" fill="none" stroke-linecap="round" stroke-linejoin="round"/><ellipse cx="36.0" cy="80.0" rx="3.0" ry="8.0" transform="rotate(-30.0 36.0 80.0)" fill="rgb(122,122,122)" fill-opacity="0.60"/><path d="M76.0 92.0 L82.0 101.0 L88.0 110.0 L95.0 119.0 L102.0 128.0" stroke="rgb(143,143,143)" stroke-width="5.0" stroke-opacity="0.80" fill="none" stroke-linecap="round" stroke-linejoin="round"/><path d="M90.0 106.0 L98.0 115.0 L106.0 125.0 L112.0 132.0" stroke="rgb(128,128,128)" stroke-width="5.0" stroke-opacity="0.70" fill="none" stroke-linecap="round" stroke-linejoin="round"/></g><g filter="url(#b1_5)"><path d="M60.0 28.0 L66.0 34.0 L72.0 40.0 L78.0 46.5 L84.0 52.5 L88.0 57.5" stroke="rgb(15,15,15)" stroke-width="6.0" stroke-opacity="0.90" fill="none" stroke-linecap="round" stroke-linejoin="round"/><path d="M103.0 83.0 L109.0 94.0 L116.0 105.0 L124.0 116.0 L132.0 127.0 L139.0 137.0 L145.0 145.0" stroke="rgb(18,18,18)" stroke-width="4.0" stroke-opacity="0.90" fill="none" stroke-linecap="round" stroke-linejoin="round"/><path d="M68.0 93.0 L74.0 102.0 L80.0 111.0 L86.0 120.0 L90.0 127.0" stroke="rgb(66,66,66)" stroke-width="3.0" stroke-opacity="0.70" fill="none" stroke-linecap="round" stroke-linejoin="round"/><path d="M41.0 88.0 L46.0 97.0 L51.0 106.0 L56.0 115.0 L60.0 122.0 L63.0 128.0" stroke="rgb(26,26,26)" stroke-width="4.0" stroke-opacity="0.85" fill="none" stroke-linecap="round" stroke-linejoin="round"/><path d="M125.0 148.0 L140.0 155.0 L155.0 160.0 L165.0 162.0" stroke="rgb(255,255,255)" stroke-width="5.0" stroke-opacity="0.85" fill="none" stroke-linecap="round" stroke-linejoin="round"/><path d="M120.0 155.0 L135.0 162.0 L150.0 166.0" stroke="rgb(250,250,250)" stroke-width="4.0" stroke-opacity="0.80" fill="none" stroke-linecap="round" stroke-linejoin="round"/><path d="M112.0 160.0 L122.0 170.0 L130.0 178.0" stroke="rgb(235,235,235)" stroke-width="3.0" stroke-opacity="0.70" fill="none" stroke-linecap="round" stroke-linejoin="round"/><path d="M100.0 180.0 L110.0 186.0 L118.0 189.0" stroke="rgb(224,224,224)" stroke-width="4.0" stroke-opacity="0.80" fill="none" stroke-linecap="round" stroke-linejoin="round"/><path d="M95.0 150.0 L105.0 160.0 L115.0 170.0" stroke="rgb(115,115,115)" stroke-width="3.0" stroke-opacity="0.60" fill="none" stroke-linecap="round" stroke-linejoin="round"/><path d="M80.0 148.0 L92.0 160.0 L104.0 172.0" stroke="rgb(128,128,128)" stroke-width="3.0" stroke-opacity="0.60" fill="none" stroke-linecap="round" stroke-linejoin="round"/></g><g filter="url(#b1_2)"><path d="M128.0 142.0 L142.0 150.0 L156.0 156.0" stroke="rgb(247,247,247)" stroke-width="3.0" stroke-opacity="0.70" fill="none" stroke-linecap="round" stroke-linejoin="round"/></g></g></g></g><use href="#ct"/></g>
<g transform="translate(63.5,248.5)"><g clip-path="url(#glc)"><g transform="rotate(52)" filter="url(#cm_b)"><g transform="rotate(-52)"><rect x="-20" y="-20" width="220" height="240" fill="rgb(166,166,166)"/><g filter="url(#b5)"><path d="M20.0 -5.0 L34.0 6.0 L38.0 20.0 L43.0 38.0 L49.0 55.0 L55.0 72.0 L61.0 88.0 L58.0 100.0 L44.0 104.0 L30.0 92.0 L12.0 72.0 L-10.0 45.0 L-5.0 20.0 L10.0 0.0Z" fill="rgb(130,130,130)" fill-opacity="0.97"/><path d="M45.0 15.0 L60.0 28.0 L76.0 44.0 L90.0 64.0" stroke="rgb(176,176,176)" stroke-width="10.0" stroke-opacity="0.60" fill="none" stroke-linecap="round" stroke-linejoin="round"/></g><g filter="url(#b4)"><path d="M34.0 92.0 L42.0 110.0 L54.0 128.0 L68.0 144.0 L84.0 160.0 L100.0 176.0" stroke="rgb(139,139,139)" stroke-width="8.0" stroke-opacity="0.70" fill="none" stroke-linecap="round" stroke-linejoin="round"/><path d="M44.0 88.0 L56.0 106.0 L68.0 124.0 L80.0 140.0" stroke="rgb(143,143,143)" stroke-width="10.0" stroke-opacity="0.70" fill="none" stroke-linecap="round" stroke-linejoin="round"/></g><g filter="url(#b3)"><ellipse cx="57.0" cy="98.0" rx="5.0" ry="9.0" transform="rotate(-35.0 57.0 98.0)" fill="rgb(117,117,117)" fill-opacity="0.70"/><path d="M90.0 100.0 L102.0 114.0 L114.0 128.0 L126.0 140.0" stroke="rgb(178,178,178)" stroke-width="6.0" stroke-opacity="0.60" fill="none" stroke-linecap="round" stroke-linejoin="round"/></g><g filter="url(#b2)"><path d="M64.0 82.0 L70.0 92.0 L76.0 104.0 L82.0 114.0 L88.0 123.0 L96.0 132.0 L106.0 141.0 L114.0 148.0" stroke="rgb(172,172,172)" stroke-width="5.0" stroke-opacity="0.80" fill="none" stroke-linecap="round" stroke-linejoin="round"/><path d="M58.0 90.0 L64.0 101.0 L71.0 113.0 L78.0 125.0 L85.0 136.0" stroke="rgb(140,140,140)" stroke-width="4.0" stroke-opacity="0.70" fill="none" stroke-linecap="round" stroke-linejoin="round"/></g><g filter="url(#b1_8)"><ellipse cx="120.0" cy="135.0" rx="3.5" ry="6.0" transform="rotate(-40.0 120.0 135.0)" fill="rgb(177,177,177)" fill-opacity="0.80"/></g><g filter="url(#b1_5)"><path d="M86.0 158.0 L94.0 168.0 L102.0 178.0 L110.0 186.0" stroke="rgb(204,204,204)" stroke-width="3.0" stroke-opacity="0.60" fill="none" stroke-linecap="round" stroke-linejoin="round"/><path d="M70.0 140.0 L80.0 152.0 L90.0 164.0 L100.0 176.0" stroke="rgb(140,140,140)" stroke-width="3.0" stroke-opacity="0.50" fill="none" stroke-linecap="round" stroke-linejoin="round"/></g><g filter="url(#b1_2)"><path d="M113.0 131.0 L118.0 135.0 L123.0 139.0 L128.0 144.0" stroke="rgb(176,176,176)" stroke-width="4.0" stroke-opacity="0.90" fill="none" stroke-linecap="round" stroke-linejoin="round"/><path d="M94.0 146.0 L100.0 154.0 L106.0 162.0" stroke="rgb(223,223,223)" stroke-width="3.0" stroke-opacity="0.70" fill="none" stroke-linecap="round" stroke-linejoin="round"/><path d="M104.0 140.0 L112.0 150.0 L120.0 158.0" stroke="rgb(172,172,172)" stroke-width="3.0" stroke-opacity="0.60" fill="none" stroke-linecap="round" stroke-linejoin="round"/><path d="M114.0 186.0 L118.0 189.0 L124.0 188.0" stroke="rgb(236,236,236)" stroke-width="3.0" stroke-opacity="0.70" fill="none" stroke-linecap="round" stroke-linejoin="round"/></g><g filter="url(#b1)"><path d="M123.0 141.0 L128.0 145.0 L134.0 150.0 L141.0 156.0 L146.0 159.0 L155.0 163.0" stroke="rgb(251,251,251)" stroke-width="4.5" stroke-opacity="0.95" fill="none" stroke-linecap="round" stroke-linejoin="round"/><path d="M104.0 155.0 L110.0 162.0 L116.0 170.0 L121.0 177.0 L124.0 182.0" stroke="rgb(251,251,251)" stroke-width="4.5" stroke-opacity="0.95" fill="none" stroke-linecap="round" stroke-linejoin="round"/><path d="M128.0 145.0 L138.0 151.0 L150.0 158.0" stroke="rgb(236,236,236)" stroke-width="2.5" stroke-opacity="0.70" fill="none" stroke-linecap="round" stroke-linejoin="round"/><path d="M96.5 160.2 L104.7 170.7 L110.5 180.0 L116.4 185.9" stroke="rgb(236,236,236)" stroke-width="3.0" stroke-opacity="0.85" fill="none" stroke-linecap="round" stroke-linejoin="round"/><path d="M134.0 158.0 L144.0 162.0 L156.0 166.0 L164.0 166.0" stroke="rgb(230,230,230)" stroke-width="2.5" stroke-opacity="0.70" fill="none" stroke-linecap="round" stroke-linejoin="round"/><path d="M162.0 158.0 L166.0 161.0 L168.5 163.0" stroke="rgb(251,251,251)" stroke-width="3.5" stroke-opacity="0.90" fill="none" stroke-linecap="round" stroke-linejoin="round"/></g><g filter="url(#b0_9)"><path d="M119.9 156.7 L125.0 161.0 L129.2 164.9 L135.0 170.7" stroke="rgb(245,245,245)" stroke-width="3.0" stroke-opacity="0.90" fill="none" stroke-linecap="round" stroke-linejoin="round"/><path d="M131.5 168.4 L137.0 171.5 L143.2 174.2" stroke="rgb(128,128,128)" stroke-width="3.0" stroke-opacity="0.85" fill="none" stroke-linecap="round" stroke-linejoin="round"/><path d="M149.0 159.0 L155.0 162.0 L161.9 164.9" stroke="rgb(124,124,124)" stroke-width="3.0" stroke-opacity="0.85" fill="none" stroke-linecap="round" stroke-linejoin="round"/></g><g filter="url(#b0_8)"><path d="M112.0 160.0 L118.0 167.0 L124.0 173.0" stroke="rgb(153,153,153)" stroke-width="2.0" stroke-opacity="0.70" fill="none" stroke-linecap="round" stroke-linejoin="round"/><path d="M116.4 180.0 L122.0 183.0 L128.0 181.0" stroke="rgb(147,147,147)" stroke-width="2.0" stroke-opacity="0.60" fill="none" stroke-linecap="round" stroke-linejoin="round"/></g></g></g></g><use href="#ct"/></g>
<g transform="translate(276.5,248.5)"><g clip-path="url(#glc)"><g transform="rotate(52)" filter="url(#cm_f)"><g transform="rotate(-52)"><rect x="-20" y="-20" width="220" height="240" fill="rgb(173,173,173)"/><g filter="url(#b5)"><path d="M20.0 -5.0 L34.0 6.0 L38.0 20.0 L43.0 38.0 L49.0 55.0 L55.0 72.0 L61.0 88.0 L58.0 100.0 L44.0 104.0 L30.0 92.0 L12.0 72.0 L-10.0 45.0 L-5.0 20.0 L10.0 0.0Z" fill="rgb(130,130,130)" fill-opacity="0.97"/><path d="M45.0 15.0 L60.0 28.0 L76.0 44.0 L90.0 64.0" stroke="rgb(181,181,181)" stroke-width="10.0" stroke-opacity="0.60" fill="none" stroke-linecap="round" stroke-linejoin="round"/></g><g filter="url(#b4)"><path d="M34.0 92.0 L42.0 110.0 L54.0 128.0 L68.0 144.0 L84.0 160.0 L100.0 176.0" stroke="rgb(143,143,143)" stroke-width="8.0" stroke-opacity="0.70" fill="none" stroke-linecap="round" stroke-linejoin="round"/><path d="M44.0 88.0 L56.0 106.0 L68.0 124.0 L80.0 140.0" stroke="rgb(148,148,148)" stroke-width="10.0" stroke-opacity="0.70" fill="none" stroke-linecap="round" stroke-linejoin="round"/></g><g filter="url(#b3)"><ellipse cx="57.0" cy="98.0" rx="5.0" ry="9.0" transform="rotate(-35.0 57.0 98.0)" fill="rgb(117,117,117)" fill-opacity="0.70"/></g><g filter="url(#b2)"><path d="M64.0 82.0 L70.0 92.0 L76.0 104.0 L82.0 114.0 L88.0 123.0 L96.0 132.0 L106.0 141.0 L114.0 148.0" stroke="rgb(172,172,172)" stroke-width="5.0" stroke-opacity="0.80" fill="none" stroke-linecap="round" stroke-linejoin="round"/><path d="M58.0 90.0 L64.0 101.0 L71.0 113.0 L78.0 125.0 L85.0 136.0" stroke="rgb(143,143,143)" stroke-width="4.0" stroke-opacity="0.70" fill="none" stroke-linecap="round" stroke-linejoin="round"/></g><g filter="url(#b1_8)"><ellipse cx="120.0" cy="135.0" rx="3.5" ry="6.0" transform="rotate(-40.0 120.0 135.0)" fill="rgb(170,170,170)" fill-opacity="0.80"/></g><g filter="url(#b1_5)"><path d="M86.0 158.0 L94.0 168.0 L102.0 178.0 L110.0 186.0" stroke="rgb(193,193,193)" stroke-width="3.0" stroke-opacity="0.60" fill="none" stroke-linecap="round" stroke-linejoin="round"/><path d="M70.0 140.0 L80.0 152.0 L90.0 164.0 L100.0 176.0" stroke="rgb(140,140,140)" stroke-width="3.0" stroke-opacity="0.50" fill="none" stroke-linecap="round" stroke-linejoin="round"/></g><g filter="url(#b1_2)"><path d="M113.0 131.0 L118.0 135.0 L123.0 139.0 L128.0 144.0" stroke="rgb(169,169,169)" stroke-width="4.0" stroke-opacity="0.90" fill="none" stroke-linecap="round" stroke-linejoin="round"/><path d="M94.0 146.0 L100.0 154.0 L106.0 162.0" stroke="rgb(209,209,209)" stroke-width="3.0" stroke-opacity="0.70" fill="none" stroke-linecap="round" stroke-linejoin="round"/><path d="M104.0 140.0 L112.0 150.0 L120.0 158.0" stroke="rgb(172,172,172)" stroke-width="3.0" stroke-opacity="0.60" fill="none" stroke-linecap="round" stroke-linejoin="round"/><path d="M114.0 186.0 L118.0 189.0 L124.0 188.0" stroke="rgb(220,220,220)" stroke-width="3.0" stroke-opacity="0.70" fill="none" stroke-linecap="round" stroke-linejoin="round"/></g><g filter="url(#b1)"><path d="M123.0 141.0 L128.0 145.0 L134.0 150.0 L141.0 156.0 L146.0 159.0 L155.0 163.0" stroke="rgb(233,233,233)" stroke-width="4.5" stroke-opacity="0.95" fill="none" stroke-linecap="round" stroke-linejoin="round"/><path d="M104.0 155.0 L110.0 162.0 L116.0 170.0 L121.0 177.0 L124.0 182.0" stroke="rgb(233,233,233)" stroke-width="4.5" stroke-opacity="0.95" fill="none" stroke-linecap="round" stroke-linejoin="round"/><path d="M128.0 145.0 L138.0 151.0 L150.0 158.0" stroke="rgb(220,220,220)" stroke-width="2.5" stroke-opacity="0.70" fill="none" stroke-linecap="round" stroke-linejoin="round"/><path d="M96.5 160.2 L104.7 170.7 L110.5 180.0 L116.4 185.9" stroke="rgb(220,220,220)" stroke-width="3.0" stroke-opacity="0.85" fill="none" stroke-linecap="round" stroke-linejoin="round"/><path d="M134.0 158.0 L144.0 162.0 L156.0 166.0 L164.0 166.0" stroke="rgb(214,214,214)" stroke-width="2.5" stroke-opacity="0.70" fill="none" stroke-linecap="round" stroke-linejoin="round"/><path d="M162.0 158.0 L166.0 161.0 L168.5 163.0" stroke="rgb(233,233,233)" stroke-width="3.5" stroke-opacity="0.90" fill="none" stroke-linecap="round" stroke-linejoin="round"/></g><g filter="url(#b0_9)"><path d="M119.9 156.7 L125.0 161.0 L129.2 164.9 L135.0 170.7" stroke="rgb(227,227,227)" stroke-width="3.0" stroke-opacity="0.90" fill="none" stroke-linecap="round" stroke-linejoin="round"/><path d="M131.5 168.4 L137.0 171.5 L143.2 174.2" stroke="rgb(128,128,128)" stroke-width="3.0" stroke-opacity="0.85" fill="none" stroke-linecap="round" stroke-linejoin="round"/><path d="M149.0 159.0 L155.0 162.0 L161.9 164.9" stroke="rgb(124,124,124)" stroke-width="3.0" stroke-opacity="0.85" fill="none" stroke-linecap="round" stroke-linejoin="round"/></g><g filter="url(#b0_8)"><path d="M112.0 160.0 L118.0 167.0 L124.0 173.0" stroke="rgb(153,153,153)" stroke-width="2.0" stroke-opacity="0.70" fill="none" stroke-linecap="round" stroke-linejoin="round"/><path d="M116.4 180.0 L122.0 183.0 L128.0 181.0" stroke="rgb(147,147,147)" stroke-width="2.0" stroke-opacity="0.60" fill="none" stroke-linecap="round" stroke-linejoin="round"/></g></g></g></g><use href="#ct"/></g>
<g transform="translate(486.5,248.5)"><g clip-path="url(#glc)"><g transform="rotate(52)" filter="url(#cm_j)"><g transform="rotate(-52)"><rect x="-20" y="-20" width="220" height="240" fill="rgb(143,143,143)"/><g filter="url(#b6)"><path d="M50.0 80.0 L75.0 80.0 L95.0 105.0 L105.0 130.0 L100.0 140.0 L85.0 130.0 L65.0 110.0Z" fill="rgb(112,112,112)" fill-opacity="0.80"/><ellipse cx="40.0" cy="52.0" rx="12.0" ry="24.0" transform="rotate(-35.0 40.0 52.0)" fill="rgb(85,85,85)" fill-opacity="0.60"/><path d="M104.0 108.0 L130.0 128.0 L150.0 148.0 L168.0 160.0 L160.0 170.0 L140.0 178.0 L120.0 188.0 L108.0 178.0 L96.0 150.0 L94.0 125.0Z" fill="rgb(204,204,204)" fill-opacity="0.75"/></g><g filter="url(#b5)"><path d="M20.0 60.0 L40.0 75.0 L58.0 95.0 L72.0 120.0 L88.0 148.0 L100.0 172.0 L110.0 188.0 L96.0 180.0 L78.0 162.0 L56.0 138.0 L40.0 112.0 L28.0 88.0Z" fill="rgb(117,117,117)" fill-opacity="0.80"/><ellipse cx="30.0" cy="28.0" rx="12.0" ry="16.0" transform="rotate(-35.0 30.0 28.0)" fill="rgb(82,82,82)" fill-opacity="0.60"/></g><g filter="url(#b4_5)"><path d="M22.0 4.0 L32.0 9.0 L42.0 14.0 L50.0 20.0 L58.0 30.0 L68.0 42.0 L78.0 56.0 L86.0 72.0 L93.0 90.0 L99.0 108.0 L90.0 112.0 L78.0 100.0 L66.0 94.0 L54.0 86.0 L40.0 92.0 L30.0 78.0 L22.0 64.0 L16.0 52.0 L10.0 38.0 L10.0 20.0 L15.0 11.0Z" fill="rgb(92,92,92)" fill-opacity="0.90"/></g><g filter="url(#b4)"><ellipse cx="10.0" cy="45.0" rx="8.0" ry="10.0" transform="rotate(-35.0 10.0 45.0)" fill="rgb(131,131,131)" fill-opacity="0.80"/></g><g filter="url(#b2_5)"><path d="M89.0 60.0 L95.0 71.0 L101.0 81.0 L107.0 93.0 L115.0 105.0 L123.0 117.0 L131.0 127.0 L139.0 137.0 L148.0 148.0" stroke="rgb(207,207,207)" stroke-width="10.0" stroke-opacity="0.90" fill="none" stroke-linecap="round" stroke-linejoin="round"/></g><g filter="url(#b2)"><path d="M42.0 20.0 L50.0 28.0 L60.0 38.0 L70.0 48.0 L80.0 60.0 L88.0 72.0 L96.0 86.0 L102.0 100.0" stroke="rgb(131,131,131)" stroke-width="4.0" stroke-opacity="0.60" fill="none" stroke-linecap="round" stroke-linejoin="round"/><path d="M50.0 96.0 L58.0 108.0 L68.0 122.0 L80.0 138.0 L92.0 154.0 L104.0 170.0 L112.0 182.0" stroke="rgb(185,185,185)" stroke-width="4.0" stroke-opacity="0.70" fill="none" stroke-linecap="round" stroke-linejoin="round"/><path d="M42.0 104.0 L48.0 116.0 L56.0 128.0 L64.0 140.0" stroke="rgb(99,99,99)" stroke-width="3.0" stroke-opacity="0.60" fill="none" stroke-linecap="round" stroke-linejoin="round"/><path d="M74.0 98.0 L86.0 114.0 L100.0 130.0 L114.0 146.0 L128.0 160.0" stroke="rgb(191,191,191)" stroke-width="4.0" stroke-opacity="0.70" fill="none" stroke-linecap="round" stroke-linejoin="round"/></g><g filter="url(#b1_8)"><path d="M43.0 12.0 L50.0 18.0 L58.0 26.0 L66.0 34.0 L74.0 42.0 L82.0 51.0 L89.0 60.0" stroke="rgb(172,172,172)" stroke-width="5.0" stroke-opacity="0.90" fill="none" stroke-linecap="round" stroke-linejoin="round"/></g><g filter="url(#b1_5)"><path d="M62.0 100.0 L72.0 114.0 L84.0 130.0 L96.0 146.0 L108.0 160.0" stroke="rgb(130,130,130)" stroke-width="3.0" stroke-opacity="0.60" fill="none" stroke-linecap="round" stroke-linejoin="round"/><path d="M80.0 133.0 L86.0 140.0 L90.0 146.0" stroke="rgb(99,99,99)" stroke-width="4.0" stroke-opacity="0.60" fill="none" stroke-linecap="round" stroke-linejoin="round"/><path d="M92.0 150.0 L102.0 164.0 L112.0 178.0 L118.0 187.0" stroke="rgb(198,198,198)" stroke-width="3.0" stroke-opacity="0.70" fill="none" stroke-linecap="round" stroke-linejoin="round"/><path d="M126.0 146.0 L140.0 154.0 L154.0 160.0 L166.0 163.0" stroke="rgb(204,204,204)" stroke-width="4.0" stroke-opacity="0.70" fill="none" stroke-linecap="round" stroke-linejoin="round"/></g><g filter="url(#b1_2)"><path d="M45.0 11.5 L52.0 17.5 L60.0 25.5 L68.0 33.5 L76.0 41.5 L84.0 50.5 L90.0 58.5 L93.0 65.0" stroke="rgb(191,191,191)" stroke-width="3.0" stroke-opacity="0.85" fill="none" stroke-linecap="round" stroke-linejoin="round"/><path d="M137.0 137.0 L141.0 141.0 L145.0 145.0" stroke="rgb(251,251,251)" stroke-width="4.0" stroke-opacity="0.90" fill="none" stroke-linecap="round" stroke-linejoin="round"/><path d="M104.0 150.0 L116.0 162.0 L128.0 174.0" stroke="rgb(130,130,130)" stroke-width="3.0" stroke-opacity="0.60" fill="none" stroke-linecap="round" stroke-linejoin="round"/><path d="M118.0 150.0 L132.0 160.0 L146.0 166.0 L160.0 166.0" stroke="rgb(128,128,128)" stroke-width="3.0" stroke-opacity="0.60" fill="none" stroke-linecap="round" stroke-linejoin="round"/><path d="M108.0 172.0 L120.0 180.0 L132.0 182.0" stroke="rgb(128,128,128)" stroke-width="3.0" stroke-opacity="0.50" fill="none" stroke-linecap="round" stroke-linejoin="round"/></g></g></g></g><use href="#ct"/></g>
<g transform="translate(63.5,469.5)"><g clip-path="url(#glc)"><g transform="rotate(52)" filter="url(#cm_c)"><g transform="rotate(-52)"><rect x="-20" y="-20" width="220" height="240" fill="rgb(166,166,166)"/><g filter="url(#b5)"><path d="M20.0 -5.0 L34.0 6.0 L38.0 20.0 L43.0 38.0 L49.0 55.0 L55.0 72.0 L61.0 88.0 L58.0 100.0 L44.0 104.0 L30.0 92.0 L12.0 72.0 L-10.0 45.0 L-5.0 20.0 L10.0 0.0Z" fill="rgb(130,130,130)" fill-opacity="0.97"/><path d="M45.0 15.0 L60.0 28.0 L76.0 44.0 L90.0 64.0" stroke="rgb(176,176,176)" stroke-width="10.0" stroke-opacity="0.60" fill="none" stroke-linecap="round" stroke-linejoin="round"/><path d="M92.0 138.0 L120.0 128.0 L150.0 148.0 L168.0 160.0 L150.0 172.0 L125.0 186.0 L112.0 190.0 L98.0 176.0 L88.0 158.0Z" fill="rgb(198,198,198)" fill-opacity="0.70"/></g><g filter="url(#b4)"><path d="M34.0 92.0 L42.0 110.0 L54.0 128.0 L68.0 144.0 L84.0 160.0 L100.0 176.0" stroke="rgb(139,139,139)" stroke-width="8.0" stroke-opacity="0.70" fill="none" stroke-linecap="round" stroke-linejoin="round"/><path d="M44.0 88.0 L56.0 106.0 L68.0 124.0 L80.0 140.0" stroke="rgb(143,143,143)" stroke-width="10.0" stroke-opacity="0.70" fill="none" stroke-linecap="round" stroke-linejoin="round"/></g><g filter="url(#b3)"><ellipse cx="57.0" cy="98.0" rx="5.0" ry="9.0" transform="rotate(-35.0 57.0 98.0)" fill="rgb(117,117,117)" fill-opacity="0.70"/><path d="M90.0 100.0 L102.0 114.0 L114.0 128.0 L126.0 140.0" stroke="rgb(178,178,178)" stroke-width="6.0" stroke-opacity="0.60" fill="none" stroke-linecap="round" stroke-linejoin="round"/></g><g filter="url(#b2)"><path d="M64.0 82.0 L70.0 92.0 L76.0 104.0 L82.0 114.0 L88.0 123.0 L96.0 132.0 L106.0 141.0 L114.0 148.0" stroke="rgb(207,207,207)" stroke-width="5.0" stroke-opacity="0.80" fill="none" stroke-linecap="round" stroke-linejoin="round"/><path d="M58.0 90.0 L64.0 101.0 L71.0 113.0 L78.0 125.0 L85.0 136.0" stroke="rgb(140,140,140)" stroke-width="4.0" stroke-opacity="0.70" fill="none" stroke-linecap="round" stroke-linejoin="round"/></g><g filter="url(#b1_8)"><ellipse cx="120.0" cy="135.0" rx="3.5" ry="6.0" transform="rotate(-40.0 120.0 135.0)" fill="rgb(251,251,251)" fill-opacity="0.80"/></g><g filter="url(#b1_5)"><path d="M86.0 158.0 L94.0 168.0 L102.0 178.0 L110.0 186.0" stroke="rgb(204,204,204)" stroke-width="3.0" stroke-opacity="0.60" fill="none" stroke-linecap="round" stroke-linejoin="round"/><path d="M70.0 140.0 L80.0 152.0 L90.0 164.0 L100.0 176.0" stroke="rgb(140,140,140)" stroke-width="3.0" stroke-opacity="0.50" fill="none" stroke-linecap="round" stroke-linejoin="round"/></g><g filter="url(#b1_2)"><path d="M113.0 131.0 L118.0 135.0 L123.0 139.0 L128.0 144.0" stroke="rgb(249,249,249)" stroke-width="4.0" stroke-opacity="0.90" fill="none" stroke-linecap="round" stroke-linejoin="round"/><path d="M94.0 146.0 L100.0 154.0 L106.0 162.0" stroke="rgb(223,223,223)" stroke-width="3.0" stroke-opacity="0.70" fill="none" stroke-linecap="round" stroke-linejoin="round"/><path d="M104.0 140.0 L112.0 150.0 L120.0 158.0" stroke="rgb(172,172,172)" stroke-width="3.0" stroke-opacity="0.60" fill="none" stroke-linecap="round" stroke-linejoin="round"/><path d="M114.0 186.0 L118.0 189.0 L124.0 188.0" stroke="rgb(236,236,236)" stroke-width="3.0" stroke-opacity="0.70" fill="none" stroke-linecap="round" stroke-linejoin="round"/></g><g filter="url(#b1)"><path d="M123.0 141.0 L128.0 145.0 L134.0 150.0 L141.0 156.0 L146.0 159.0 L155.0 163.0" stroke="rgb(251,251,251)" stroke-width="4.5" stroke-opacity="0.95" fill="none" stroke-linecap="round" stroke-linejoin="round"/><path d="M104.0 155.0 L110.0 162.0 L116.0 170.0 L121.0 177.0 L124.0 182.0" stroke="rgb(251,251,251)" stroke-width="4.5" stroke-opacity="0.95" fill="none" stroke-linecap="round" stroke-linejoin="round"/><path d="M128.0 145.0 L138.0 151.0 L150.0 158.0" stroke="rgb(236,236,236)" stroke-width="2.5" stroke-opacity="0.70" fill="none" stroke-linecap="round" stroke-linejoin="round"/><path d="M96.5 160.2 L104.7 170.7 L110.5 180.0 L116.4 185.9" stroke="rgb(236,236,236)" stroke-width="3.0" stroke-opacity="0.85" fill="none" stroke-linecap="round" stroke-linejoin="round"/><path d="M134.0 158.0 L144.0 162.0 L156.0 166.0 L164.0 166.0" stroke="rgb(230,230,230)" stroke-width="2.5" stroke-opacity="0.70" fill="none" stroke-linecap="round" stroke-linejoin="round"/><path d="M162.0 158.0 L166.0 161.0 L168.5 163.0" stroke="rgb(251,251,251)" stroke-width="3.5" stroke-opacity="0.90" fill="none" stroke-linecap="round" stroke-linejoin="round"/></g><g filter="url(#b0_9)"><path d="M119.9 156.7 L125.0 161.0 L129.2 164.9 L135.0 170.7" stroke="rgb(245,245,245)" stroke-width="3.0" stroke-opacity="0.90" fill="none" stroke-linecap="round" stroke-linejoin="round"/><path d="M131.5 168.4 L137.0 171.5 L143.2 174.2" stroke="rgb(128,128,128)" stroke-width="3.0" stroke-opacity="0.85" fill="none" stroke-linecap="round" stroke-linejoin="round"/><path d="M149.0 159.0 L155.0 162.0 L161.9 164.9" stroke="rgb(124,124,124)" stroke-width="3.0" stroke-opacity="0.85" fill="none" stroke-linecap="round" stroke-linejoin="round"/></g><g filter="url(#b0_8)"><path d="M112.0 160.0 L118.0 167.0 L124.0 173.0" stroke="rgb(153,153,153)" stroke-width="2.0" stroke-opacity="0.70" fill="none" stroke-linecap="round" stroke-linejoin="round"/><path d="M116.4 180.0 L122.0 183.0 L128.0 181.0" stroke="rgb(147,147,147)" stroke-width="2.0" stroke-opacity="0.60" fill="none" stroke-linecap="round" stroke-linejoin="round"/></g></g></g></g><use href="#ct"/></g>
<g transform="translate(276.5,469.5)"><g clip-path="url(#glc)"><g transform="rotate(52)" filter="url(#cm_g)"><g transform="rotate(-52)"><rect x="-20" y="-20" width="220" height="240" fill="rgb(173,173,173)"/><g filter="url(#b5)"><path d="M20.0 -5.0 L34.0 6.0 L38.0 20.0 L43.0 38.0 L49.0 55.0 L55.0 72.0 L61.0 88.0 L58.0 100.0 L44.0 104.0 L30.0 92.0 L12.0 72.0 L-10.0 45.0 L-5.0 20.0 L10.0 0.0Z" fill="rgb(130,130,130)" fill-opacity="0.97"/><path d="M45.0 15.0 L60.0 28.0 L76.0 44.0 L90.0 64.0" stroke="rgb(181,181,181)" stroke-width="10.0" stroke-opacity="0.60" fill="none" stroke-linecap="round" stroke-linejoin="round"/><path d="M92.0 138.0 L120.0 128.0 L150.0 148.0 L168.0 160.0 L150.0 172.0 L125.0 186.0 L112.0 190.0 L98.0 176.0 L88.0 158.0Z" fill="rgb(191,191,191)" fill-opacity="0.70"/></g><g filter="url(#b4)"><path d="M34.0 92.0 L42.0 110.0 L54.0 128.0 L68.0 144.0 L84.0 160.0 L100.0 176.0" stroke="rgb(143,143,143)" stroke-width="8.0" stroke-opacity="0.70" fill="none" stroke-linecap="round" stroke-linejoin="round"/><path d="M44.0 88.0 L56.0 106.0 L68.0 124.0 L80.0 140.0" stroke="rgb(148,148,148)" stroke-width="10.0" stroke-opacity="0.70" fill="none" stroke-linecap="round" stroke-linejoin="round"/></g><g filter="url(#b3)"><ellipse cx="57.0" cy="98.0" rx="5.0" ry="9.0" transform="rotate(-35.0 57.0 98.0)" fill="rgb(117,117,117)" fill-opacity="0.70"/></g><g filter="url(#b2)"><path d="M64.0 82.0 L70.0 92.0 L76.0 104.0 L82.0 114.0 L88.0 123.0 L96.0 132.0 L106.0 141.0 L114.0 148.0" stroke="rgb(207,207,207)" stroke-width="5.0" stroke-opacity="0.80" fill="none" stroke-linecap="round" stroke-linejoin="round"/><path d="M58.0 90.0 L64.0 101.0 L71.0 113.0 L78.0 125.0 L85.0 136.0" stroke="rgb(143,143,143)" stroke-width="4.0" stroke-opacity="0.70" fill="none" stroke-linecap="round" stroke-linejoin="round"/></g><g filter="url(#b1_8)"><ellipse cx="120.0" cy="135.0" rx="3.5" ry="6.0" transform="rotate(-40.0 120.0 135.0)" fill="rgb(233,233,233)" fill-opacity="0.80"/></g><g filter="url(#b1_5)"><path d="M86.0 158.0 L94.0 168.0 L102.0 178.0 L110.0 186.0" stroke="rgb(193,193,193)" stroke-width="3.0" stroke-opacity="0.60" fill="none" stroke-linecap="round" stroke-linejoin="round"/><path d="M70.0 140.0 L80.0 152.0 L90.0 164.0 L100.0 176.0" stroke="rgb(140,140,140)" stroke-width="3.0" stroke-opacity="0.50" fill="none" stroke-linecap="round" stroke-linejoin="round"/></g><g filter="url(#b1_2)"><path d="M113.0 131.0 L118.0 135.0 L123.0 139.0 L128.0 144.0" stroke="rgb(230,230,230)" stroke-width="4.0" stroke-opacity="0.90" fill="none" stroke-linecap="round" stroke-linejoin="round"/><path d="M94.0 146.0 L100.0 154.0 L106.0 162.0" stroke="rgb(209,209,209)" stroke-width="3.0" stroke-opacity="0.70" fill="none" stroke-linecap="round" stroke-linejoin="round"/><path d="M104.0 140.0 L112.0 150.0 L120.0 158.0" stroke="rgb(172,172,172)" stroke-width="3.0" stroke-opacity="0.60" fill="none" stroke-linecap="round" stroke-linejoin="round"/><path d="M114.0 186.0 L118.0 189.0 L124.0 188.0" stroke="rgb(220,220,220)" stroke-width="3.0" stroke-opacity="0.70" fill="none" stroke-linecap="round" stroke-linejoin="round"/></g><g filter="url(#b1)"><path d="M123.0 141.0 L128.0 145.0 L134.0 150.0 L141.0 156.0 L146.0 159.0 L155.0 163.0" stroke="rgb(233,233,233)" stroke-width="4.5" stroke-opacity="0.95" fill="none" stroke-linecap="round" stroke-linejoin="round"/><path d="M104.0 155.0 L110.0 162.0 L116.0 170.0 L121.0 177.0 L124.0 182.0" stroke="rgb(233,233,233)" stroke-width="4.5" stroke-opacity="0.95" fill="none" stroke-linecap="round" stroke-linejoin="round"/><path d="M128.0 145.0 L138.0 151.0 L150.0 158.0" stroke="rgb(220,220,220)" stroke-width="2.5" stroke-opacity="0.70" fill="none" stroke-linecap="round" stroke-linejoin="round"/><path d="M96.5 160.2 L104.7 170.7 L110.5 180.0 L116.4 185.9" stroke="rgb(220,220,220)" stroke-width="3.0" stroke-opacity="0.85" fill="none" stroke-linecap="round" stroke-linejoin="round"/><path d="M134.0 158.0 L144.0 162.0 L156.0 166.0 L164.0 166.0" stroke="rgb(214,214,214)" stroke-width="2.5" stroke-opacity="0.70" fill="none" stroke-linecap="round" stroke-linejoin="round"/><path d="M162.0 158.0 L166.0 161.0 L168.5 163.0" stroke="rgb(233,233,233)" stroke-width="3.5" stroke-opacity="0.90" fill="none" stroke-linecap="round" stroke-linejoin="round"/></g><g filter="url(#b0_9)"><path d="M119.9 156.7 L125.0 161.0 L129.2 164.9 L135.0 170.7" stroke="rgb(227,227,227)" stroke-width="3.0" stroke-opacity="0.90" fill="none" stroke-linecap="round" stroke-linejoin="round"/><path d="M131.5 168.4 L137.0 171.5 L143.2 174.2" stroke="rgb(128,128,128)" stroke-width="3.0" stroke-opacity="0.85" fill="none" stroke-linecap="round" stroke-linejoin="round"/><path d="M149.0 159.0 L155.0 162.0 L161.9 164.9" stroke="rgb(124,124,124)" stroke-width="3.0" stroke-opacity="0.85" fill="none" stroke-linecap="round" stroke-linejoin="round"/></g><g filter="url(#b0_8)"><path d="M112.0 160.0 L118.0 167.0 L124.0 173.0" stroke="rgb(153,153,153)" stroke-width="2.0" stroke-opacity="0.70" fill="none" stroke-linecap="round" stroke-linejoin="round"/><path d="M116.4 180.0 L122.0 183.0 L128.0 181.0" stroke="rgb(147,147,147)" stroke-width="2.0" stroke-opacity="0.60" fill="none" stroke-linecap="round" stroke-linejoin="round"/></g></g></g></g><use href="#ct"/></g>
<g transform="translate(486.5,469.5)"><g clip-path="url(#glc)"><g transform="rotate(52)" filter="url(#cm_k)"><g transform="rotate(-52)"><rect x="-20" y="-20" width="220" height="240" fill="rgb(143,143,143)"/><g filter="url(#b6)"><path d="M50.0 80.0 L75.0 80.0 L95.0 105.0 L105.0 130.0 L100.0 140.0 L85.0 130.0 L65.0 110.0Z" fill="rgb(112,112,112)" fill-opacity="0.80"/><ellipse cx="40.0" cy="52.0" rx="12.0" ry="24.0" transform="rotate(-35.0 40.0 52.0)" fill="rgb(85,85,85)" fill-opacity="0.60"/><path d="M104.0 108.0 L130.0 128.0 L150.0 148.0 L168.0 160.0 L160.0 170.0 L140.0 178.0 L120.0 188.0 L108.0 178.0 L96.0 150.0 L94.0 125.0Z" fill="rgb(204,204,204)" fill-opacity="0.75"/></g><g filter="url(#b5)"><path d="M20.0 60.0 L40.0 75.0 L58.0 95.0 L72.0 120.0 L88.0 148.0 L100.0 172.0 L110.0 188.0 L96.0 180.0 L78.0 162.0 L56.0 138.0 L40.0 112.0 L28.0 88.0Z" fill="rgb(117,117,117)" fill-opacity="0.80"/><ellipse cx="30.0" cy="28.0" rx="12.0" ry="16.0" transform="rotate(-35.0 30.0 28.0)" fill="rgb(82,82,82)" fill-opacity="0.60"/></g><g filter="url(#b4_5)"><path d="M22.0 4.0 L32.0 9.0 L41.0 15.0 L48.0 22.0 L57.0 33.0 L67.0 45.0 L77.0 58.0 L86.0 74.0 L93.0 90.0 L99.0 108.0 L90.0 112.0 L78.0 100.0 L66.0 94.0 L54.0 86.0 L40.0 92.0 L30.0 78.0 L22.0 64.0 L16.0 52.0 L10.0 38.0 L10.0 20.0 L15.0 11.0Z" fill="rgb(92,92,92)" fill-opacity="0.90"/></g><g filter="url(#b4)"><ellipse cx="10.0" cy="45.0" rx="8.0" ry="10.0" transform="rotate(-35.0 10.0 45.0)" fill="rgb(131,131,131)" fill-opacity="0.80"/></g><g filter="url(#b2_5)"><path d="M89.0 60.0 L95.0 71.0 L101.0 81.0 L107.0 93.0 L115.0 105.0 L123.0 117.0 L131.0 127.0 L139.0 137.0 L148.0 148.0" stroke="rgb(207,207,207)" stroke-width="10.0" stroke-opacity="0.90" fill="none" stroke-linecap="round" stroke-linejoin="round"/></g><g filter="url(#b2)"><path d="M42.0 20.0 L50.0 28.0 L60.0 38.0 L70.0 48.0 L80.0 60.0 L88.0 72.0 L96.0 86.0 L102.0 100.0" stroke="rgb(131,131,131)" stroke-width="4.0" stroke-opacity="0.60" fill="none" stroke-linecap="round" stroke-linejoin="round"/><path d="M50.0 96.0 L58.0 108.0 L68.0 122.0 L80.0 138.0 L92.0 154.0 L104.0 170.0 L112.0 182.0" stroke="rgb(185,185,185)" stroke-width="4.0" stroke-opacity="0.70" fill="none" stroke-linecap="round" stroke-linejoin="round"/><path d="M42.0 104.0 L48.0 116.0 L56.0 128.0 L64.0 140.0" stroke="rgb(99,99,99)" stroke-width="3.0" stroke-opacity="0.60" fill="none" stroke-linecap="round" stroke-linejoin="round"/><path d="M74.0 98.0 L86.0 114.0 L100.0 130.0 L114.0 146.0 L128.0 160.0" stroke="rgb(191,191,191)" stroke-width="4.0" stroke-opacity="0.70" fill="none" stroke-linecap="round" stroke-linejoin="round"/></g><g filter="url(#b1_8)"><path d="M43.0 12.0 L50.0 18.0 L58.0 26.0 L66.0 34.0 L74.0 42.0 L82.0 51.0 L89.0 60.0" stroke="rgb(204,204,204)" stroke-width="5.0" stroke-opacity="0.90" fill="none" stroke-linecap="round" stroke-linejoin="round"/></g><g filter="url(#b1_5)"><path d="M62.0 100.0 L72.0 114.0 L84.0 130.0 L96.0 146.0 L108.0 160.0" stroke="rgb(130,130,130)" stroke-width="3.0" stroke-opacity="0.60" fill="none" stroke-linecap="round" stroke-linejoin="round"/><path d="M80.0 133.0 L86.0 140.0 L90.0 146.0" stroke="rgb(99,99,99)" stroke-width="4.0" stroke-opacity="0.60" fill="none" stroke-linecap="round" stroke-linejoin="round"/><path d="M92.0 150.0 L102.0 164.0 L112.0 178.0 L118.0 187.0" stroke="rgb(198,198,198)" stroke-width="3.0" stroke-opacity="0.70" fill="none" stroke-linecap="round" stroke-linejoin="round"/><path d="M126.0 146.0 L140.0 154.0 L154.0 160.0 L166.0 163.0" stroke="rgb(204,204,204)" stroke-width="4.0" stroke-opacity="0.70" fill="none" stroke-linecap="round" stroke-linejoin="round"/></g><g filter="url(#b1_2)"><path d="M45.0 11.5 L52.0 17.5 L60.0 25.5 L68.0 33.5 L76.0 41.5 L84.0 50.5 L90.0 58.5 L93.0 65.0" stroke="rgb(251,251,251)" stroke-width="3.0" stroke-opacity="0.85" fill="none" stroke-linecap="round" stroke-linejoin="round"/><path d="M137.0 137.0 L141.0 141.0 L145.0 145.0" stroke="rgb(251,251,251)" stroke-width="4.0" stroke-opacity="0.90" fill="none" stroke-linecap="round" stroke-linejoin="round"/><path d="M104.0 150.0 L116.0 162.0 L128.0 174.0" stroke="rgb(130,130,130)" stroke-width="3.0" stroke-opacity="0.60" fill="none" stroke-linecap="round" stroke-linejoin="round"/><path d="M118.0 150.0 L132.0 160.0 L146.0 166.0 L160.0 166.0" stroke="rgb(128,128,128)" stroke-width="3.0" stroke-opacity="0.60" fill="none" stroke-linecap="round" stroke-linejoin="round"/><path d="M108.0 172.0 L120.0 180.0 L132.0 182.0" stroke="rgb(128,128,128)" stroke-width="3.0" stroke-opacity="0.50" fill="none" stroke-linecap="round" stroke-linejoin="round"/></g></g></g></g><use href="#ct"/></g>
<g transform="translate(63.5,688.5)"><g clip-path="url(#glc)"><g transform="rotate(52)" filter="url(#cm_d)"><g transform="rotate(-52)"><rect x="-20" y="-20" width="220" height="240" fill="rgb(166,166,166)"/><g filter="url(#b5)"><path d="M20.0 -5.0 L34.0 6.0 L38.0 20.0 L43.0 38.0 L49.0 55.0 L55.0 72.0 L61.0 88.0 L58.0 100.0 L44.0 104.0 L30.0 92.0 L12.0 72.0 L-10.0 45.0 L-5.0 20.0 L10.0 0.0Z" fill="rgb(130,130,130)" fill-opacity="0.97"/><path d="M45.0 15.0 L60.0 28.0 L76.0 44.0 L90.0 64.0" stroke="rgb(176,176,176)" stroke-width="10.0" stroke-opacity="0.60" fill="none" stroke-linecap="round" stroke-linejoin="round"/><path d="M92.0 138.0 L120.0 128.0 L150.0 148.0 L168.0 160.0 L150.0 172.0 L125.0 186.0 L112.0 190.0 L98.0 176.0 L88.0 158.0Z" fill="rgb(198,198,198)" fill-opacity="0.70"/></g><g filter="url(#b4)"><path d="M34.0 92.0 L42.0 110.0 L54.0 128.0 L68.0 144.0 L84.0 160.0 L100.0 176.0" stroke="rgb(139,139,139)" stroke-width="8.0" stroke-opacity="0.70" fill="none" stroke-linecap="round" stroke-linejoin="round"/><path d="M44.0 88.0 L56.0 106.0 L68.0 124.0 L80.0 140.0" stroke="rgb(143,143,143)" stroke-width="10.0" stroke-opacity="0.70" fill="none" stroke-linecap="round" stroke-linejoin="round"/></g><g filter="url(#b3)"><ellipse cx="57.0" cy="98.0" rx="5.0" ry="9.0" transform="rotate(-35.0 57.0 98.0)" fill="rgb(117,117,117)" fill-opacity="0.70"/><path d="M90.0 100.0 L102.0 114.0 L114.0 128.0 L126.0 140.0" stroke="rgb(178,178,178)" stroke-width="6.0" stroke-opacity="0.60" fill="none" stroke-linecap="round" stroke-linejoin="round"/></g><g filter="url(#b2)"><path d="M64.0 82.0 L70.0 92.0 L76.0 104.0 L82.0 114.0 L88.0 123.0 L96.0 132.0 L106.0 141.0 L114.0 148.0" stroke="rgb(207,207,207)" stroke-width="5.0" stroke-opacity="0.80" fill="none" stroke-linecap="round" stroke-linejoin="round"/><path d="M58.0 90.0 L64.0 101.0 L71.0 113.0 L78.0 125.0 L85.0 136.0" stroke="rgb(140,140,140)" stroke-width="4.0" stroke-opacity="0.70" fill="none" stroke-linecap="round" stroke-linejoin="round"/></g><g filter="url(#b1_8)"><ellipse cx="120.0" cy="135.0" rx="3.5" ry="6.0" transform="rotate(-40.0 120.0 135.0)" fill="rgb(251,251,251)" fill-opacity="0.80"/></g><g filter="url(#b1_5)"><path d="M86.0 158.0 L94.0 168.0 L102.0 178.0 L110.0 186.0" stroke="rgb(204,204,204)" stroke-width="3.0" stroke-opacity="0.60" fill="none" stroke-linecap="round" stroke-linejoin="round"/><path d="M70.0 140.0 L80.0 152.0 L90.0 164.0 L100.0 176.0" stroke="rgb(140,140,140)" stroke-width="3.0" stroke-opacity="0.50" fill="none" stroke-linecap="round" stroke-linejoin="round"/></g><g filter="url(#b1_2)"><path d="M113.0 131.0 L118.0 135.0 L123.0 139.0 L128.0 144.0" stroke="rgb(249,249,249)" stroke-width="4.0" stroke-opacity="0.90" fill="none" stroke-linecap="round" stroke-linejoin="round"/><path d="M94.0 146.0 L100.0 154.0 L106.0 162.0" stroke="rgb(223,223,223)" stroke-width="3.0" stroke-opacity="0.70" fill="none" stroke-linecap="round" stroke-linejoin="round"/><path d="M104.0 140.0 L112.0 150.0 L120.0 158.0" stroke="rgb(172,172,172)" stroke-width="3.0" stroke-opacity="0.60" fill="none" stroke-linecap="round" stroke-linejoin="round"/><path d="M114.0 186.0 L118.0 189.0 L124.0 188.0" stroke="rgb(236,236,236)" stroke-width="3.0" stroke-opacity="0.70" fill="none" stroke-linecap="round" stroke-linejoin="round"/></g><g filter="url(#b1)"><path d="M123.0 141.0 L128.0 145.0 L134.0 150.0 L141.0 156.0 L146.0 159.0 L155.0 163.0" stroke="rgb(251,251,251)" stroke-width="4.5" stroke-opacity="0.95" fill="none" stroke-linecap="round" stroke-linejoin="round"/><path d="M104.0 155.0 L110.0 162.0 L116.0 170.0 L121.0 177.0 L124.0 182.0" stroke="rgb(251,251,251)" stroke-width="4.5" stroke-opacity="0.95" fill="none" stroke-linecap="round" stroke-linejoin="round"/><path d="M128.0 145.0 L138.0 151.0 L150.0 158.0" stroke="rgb(236,236,236)" stroke-width="2.5" stroke-opacity="0.70" fill="none" stroke-linecap="round" stroke-linejoin="round"/><path d="M96.5 160.2 L104.7 170.7 L110.5 180.0 L116.4 185.9" stroke="rgb(236,236,236)" stroke-width="3.0" stroke-opacity="0.85" fill="none" stroke-linecap="round" stroke-linejoin="round"/><path d="M134.0 158.0 L144.0 162.0 L156.0 166.0 L164.0 166.0" stroke="rgb(230,230,230)" stroke-width="2.5" stroke-opacity="0.70" fill="none" stroke-linecap="round" stroke-linejoin="round"/><path d="M162.0 158.0 L166.0 161.0 L168.5 163.0" stroke="rgb(251,251,251)" stroke-width="3.5" stroke-opacity="0.90" fill="none" stroke-linecap="round" stroke-linejoin="round"/></g><g filter="url(#b0_9)"><path d="M119.9 156.7 L125.0 161.0 L129.2 164.9 L135.0 170.7" stroke="rgb(245,245,245)" stroke-width="3.0" stroke-opacity="0.90" fill="none" stroke-linecap="round" stroke-linejoin="round"/><path d="M131.5 168.4 L137.0 171.5 L143.2 174.2" stroke="rgb(128,128,128)" stroke-width="3.0" stroke-opacity="0.85" fill="none" stroke-linecap="round" stroke-linejoin="round"/><path d="M149.0 159.0 L155.0 162.0 L161.9 164.9" stroke="rgb(124,124,124)" stroke-width="3.0" stroke-opacity="0.85" fill="none" stroke-linecap="round" stroke-linejoin="round"/></g><g filter="url(#b0_8)"><path d="M112.0 160.0 L118.0 167.0 L124.0 173.0" stroke="rgb(153,153,153)" stroke-width="2.0" stroke-opacity="0.70" fill="none" stroke-linecap="round" stroke-linejoin="round"/><path d="M116.4 180.0 L122.0 183.0 L128.0 181.0" stroke="rgb(147,147,147)" stroke-width="2.0" stroke-opacity="0.60" fill="none" stroke-linecap="round" stroke-linejoin="round"/></g></g></g></g><use href="#ct"/></g>
<g transform="translate(276.5,688.5)"><g clip-path="url(#glc)"><g transform="rotate(52)" filter="url(#cm_h)"><g transform="rotate(-52)"><rect x="-20" y="-20" width="220" height="240" fill="rgb(173,173,173)"/><g filter="url(#b5)"><path d="M20.0 -5.0 L34.0 6.0 L38.0 20.0 L43.0 38.0 L49.0 55.0 L55.0 72.0 L61.0 88.0 L58.0 100.0 L44.0 104.0 L30.0 92.0 L12.0 72.0 L-10.0 45.0 L-5.0 20.0 L10.0 0.0Z" fill="rgb(130,130,130)" fill-opacity="0.97"/><path d="M45.0 15.0 L60.0 28.0 L76.0 44.0 L90.0 64.0" stroke="rgb(181,181,181)" stroke-width="10.0" stroke-opacity="0.60" fill="none" stroke-linecap="round" stroke-linejoin="round"/><path d="M92.0 138.0 L120.0 128.0 L150.0 148.0 L168.0 160.0 L150.0 172.0 L125.0 186.0 L112.0 190.0 L98.0 176.0 L88.0 158.0Z" fill="rgb(191,191,191)" fill-opacity="0.70"/></g><g filter="url(#b4)"><path d="M34.0 92.0 L42.0 110.0 L54.0 128.0 L68.0 144.0 L84.0 160.0 L100.0 176.0" stroke="rgb(143,143,143)" stroke-width="8.0" stroke-opacity="0.70" fill="none" stroke-linecap="round" stroke-linejoin="round"/><path d="M44.0 88.0 L56.0 106.0 L68.0 124.0 L80.0 140.0" stroke="rgb(148,148,148)" stroke-width="10.0" stroke-opacity="0.70" fill="none" stroke-linecap="round" stroke-linejoin="round"/></g><g filter="url(#b3)"><ellipse cx="57.0" cy="98.0" rx="5.0" ry="9.0" transform="rotate(-35.0 57.0 98.0)" fill="rgb(117,117,117)" fill-opacity="0.70"/></g><g filter="url(#b2)"><path d="M64.0 82.0 L70.0 92.0 L76.0 104.0 L82.0 114.0 L88.0 123.0 L96.0 132.0 L106.0 141.0 L114.0 148.0" stroke="rgb(207,207,207)" stroke-width="5.0" stroke-opacity="0.80" fill="none" stroke-linecap="round" stroke-linejoin="round"/><path d="M58.0 90.0 L64.0 101.0 L71.0 113.0 L78.0 125.0 L85.0 136.0" stroke="rgb(143,143,143)" stroke-width="4.0" stroke-opacity="0.70" fill="none" stroke-linecap="round" stroke-linejoin="round"/></g><g filter="url(#b1_8)"><ellipse cx="120.0" cy="135.0" rx="3.5" ry="6.0" transform="rotate(-40.0 120.0 135.0)" fill="rgb(233,233,233)" fill-opacity="0.80"/></g><g filter="url(#b1_5)"><path d="M86.0 158.0 L94.0 168.0 L102.0 178.0 L110.0 186.0" stroke="rgb(193,193,193)" stroke-width="3.0" stroke-opacity="0.60" fill="none" stroke-linecap="round" stroke-linejoin="round"/><path d="M70.0 140.0 L80.0 152.0 L90.0 164.0 L100.0 176.0" stroke="rgb(140,140,140)" stroke-width="3.0" stroke-opacity="0.50" fill="none" stroke-linecap="round" stroke-linejoin="round"/></g><g filter="url(#b1_2)"><path d="M113.0 131.0 L118.0 135.0 L123.0 139.0 L128.0 144.0" stroke="rgb(230,230,230)" stroke-width="4.0" stroke-opacity="0.90" fill="none" stroke-linecap="round" stroke-linejoin="round"/><path d="M94.0 146.0 L100.0 154.0 L106.0 162.0" stroke="rgb(209,209,209)" stroke-width="3.0" stroke-opacity="0.70" fill="none" stroke-linecap="round" stroke-linejoin="round"/><path d="M104.0 140.0 L112.0 150.0 L120.0 158.0" stroke="rgb(172,172,172)" stroke-width="3.0" stroke-opacity="0.60" fill="none" stroke-linecap="round" stroke-linejoin="round"/><path d="M114.0 186.0 L118.0 189.0 L124.0 188.0" stroke="rgb(220,220,220)" stroke-width="3.0" stroke-opacity="0.70" fill="none" stroke-linecap="round" stroke-linejoin="round"/></g><g filter="url(#b1)"><path d="M123.0 141.0 L128.0 145.0 L134.0 150.0 L141.0 156.0 L146.0 159.0 L155.0 163.0" stroke="rgb(233,233,233)" stroke-width="4.5" stroke-opacity="0.95" fill="none" stroke-linecap="round" stroke-linejoin="round"/><path d="M104.0 155.0 L110.0 162.0 L116.0 170.0 L121.0 177.0 L124.0 182.0" stroke="rgb(233,233,233)" stroke-width="4.5" stroke-opacity="0.95" fill="none" stroke-linecap="round" stroke-linejoin="round"/><path d="M128.0 145.0 L138.0 151.0 L150.0 158.0" stroke="rgb(220,220,220)" stroke-width="2.5" stroke-opacity="0.70" fill="none" stroke-linecap="round" stroke-linejoin="round"/><path d="M96.5 160.2 L104.7 170.7 L110.5 180.0 L116.4 185.9" stroke="rgb(220,220,220)" stroke-width="3.0" stroke-opacity="0.85" fill="none" stroke-linecap="round" stroke-linejoin="round"/><path d="M134.0 158.0 L144.0 162.0 L156.0 166.0 L164.0 166.0" stroke="rgb(214,214,214)" stroke-width="2.5" stroke-opacity="0.70" fill="none" stroke-linecap="round" stroke-linejoin="round"/><path d="M162.0 158.0 L166.0 161.0 L168.5 163.0" stroke="rgb(233,233,233)" stroke-width="3.5" stroke-opacity="0.90" fill="none" stroke-linecap="round" stroke-linejoin="round"/></g><g filter="url(#b0_9)"><path d="M119.9 156.7 L125.0 161.0 L129.2 164.9 L135.0 170.7" stroke="rgb(227,227,227)" stroke-width="3.0" stroke-opacity="0.90" fill="none" stroke-linecap="round" stroke-linejoin="round"/><path d="M131.5 168.4 L137.0 171.5 L143.2 174.2" stroke="rgb(128,128,128)" stroke-width="3.0" stroke-opacity="0.85" fill="none" stroke-linecap="round" stroke-linejoin="round"/><path d="M149.0 159.0 L155.0 162.0 L161.9 164.9" stroke="rgb(124,124,124)" stroke-width="3.0" stroke-opacity="0.85" fill="none" stroke-linecap="round" stroke-linejoin="round"/></g><g filter="url(#b0_8)"><path d="M112.0 160.0 L118.0 167.0 L124.0 173.0" stroke="rgb(153,153,153)" stroke-width="2.0" stroke-opacity="0.70" fill="none" stroke-linecap="round" stroke-linejoin="round"/><path d="M116.4 180.0 L122.0 183.0 L128.0 181.0" stroke="rgb(147,147,147)" stroke-width="2.0" stroke-opacity="0.60" fill="none" stroke-linecap="round" stroke-linejoin="round"/></g></g></g></g><use href="#ct"/></g>
<g transform="translate(486.5,688.5)"><g clip-path="url(#glc)"><g transform="rotate(52)" filter="url(#cm_l)"><g transform="rotate(-52)"><rect x="-20" y="-20" width="220" height="240" fill="rgb(143,143,143)"/><g filter="url(#b6)"><path d="M50.0 80.0 L75.0 80.0 L95.0 105.0 L105.0 130.0 L100.0 140.0 L85.0 130.0 L65.0 110.0Z" fill="rgb(112,112,112)" fill-opacity="0.80"/><ellipse cx="40.0" cy="52.0" rx="12.0" ry="24.0" transform="rotate(-35.0 40.0 52.0)" fill="rgb(85,85,85)" fill-opacity="0.60"/><path d="M104.0 108.0 L130.0 128.0 L150.0 148.0 L168.0 160.0 L160.0 170.0 L140.0 178.0 L120.0 188.0 L108.0 178.0 L96.0 150.0 L94.0 125.0Z" fill="rgb(204,204,204)" fill-opacity="0.75"/></g><g filter="url(#b5)"><path d="M20.0 60.0 L40.0 75.0 L58.0 95.0 L72.0 120.0 L88.0 148.0 L100.0 172.0 L110.0 188.0 L96.0 180.0 L78.0 162.0 L56.0 138.0 L40.0 112.0 L28.0 88.0Z" fill="rgb(117,117,117)" fill-opacity="0.80"/><ellipse cx="30.0" cy="28.0" rx="12.0" ry="16.0" transform="rotate(-35.0 30.0 28.0)" fill="rgb(82,82,82)" fill-opacity="0.60"/></g><g filter="url(#b4_5)"><path d="M22.0 4.0 L32.0 9.0 L41.0 15.0 L48.0 22.0 L57.0 33.0 L67.0 45.0 L77.0 58.0 L86.0 74.0 L93.0 90.0 L99.0 108.0 L90.0 112.0 L78.0 100.0 L66.0 94.0 L54.0 86.0 L40.0 92.0 L30.0 78.0 L22.0 64.0 L16.0 52.0 L10.0 38.0 L10.0 20.0 L15.0 11.0Z" fill="rgb(92,92,92)" fill-opacity="0.90"/></g><g filter="url(#b4)"><ellipse cx="10.0" cy="45.0" rx="8.0" ry="10.0" transform="rotate(-35.0 10.0 45.0)" fill="rgb(131,131,131)" fill-opacity="0.80"/></g><g filter="url(#b2_5)"><path d="M89.0 60.0 L95.0 71.0 L101.0 81.0 L107.0 93.0 L115.0 105.0 L123.0 117.0 L131.0 127.0 L139.0 137.0 L148.0 148.0" stroke="rgb(207,207,207)" stroke-width="10.0" stroke-opacity="0.90" fill="none" stroke-linecap="round" stroke-linejoin="round"/></g><g filter="url(#b2)"><path d="M42.0 20.0 L50.0 28.0 L60.0 38.0 L70.0 48.0 L80.0 60.0 L88.0 72.0 L96.0 86.0 L102.0 100.0" stroke="rgb(131,131,131)" stroke-width="4.0" stroke-opacity="0.60" fill="none" stroke-linecap="round" stroke-linejoin="round"/><path d="M50.0 96.0 L58.0 108.0 L68.0 122.0 L80.0 138.0 L92.0 154.0 L104.0 170.0 L112.0 182.0" stroke="rgb(185,185,185)" stroke-width="4.0" stroke-opacity="0.70" fill="none" stroke-linecap="round" stroke-linejoin="round"/><path d="M42.0 104.0 L48.0 116.0 L56.0 128.0 L64.0 140.0" stroke="rgb(99,99,99)" stroke-width="3.0" stroke-opacity="0.60" fill="none" stroke-linecap="round" stroke-linejoin="round"/><path d="M74.0 98.0 L86.0 114.0 L100.0 130.0 L114.0 146.0 L128.0 160.0" stroke="rgb(191,191,191)" stroke-width="4.0" stroke-opacity="0.70" fill="none" stroke-linecap="round" stroke-linejoin="round"/></g><g filter="url(#b1_8)"><path d="M43.0 12.0 L50.0 18.0 L58.0 26.0 L66.0 34.0 L74.0 42.0 L82.0 51.0 L89.0 60.0" stroke="rgb(204,204,204)" stroke-width="5.0" stroke-opacity="0.90" fill="none" stroke-linecap="round" stroke-linejoin="round"/></g><g filter="url(#b1_5)"><path d="M62.0 100.0 L72.0 114.0 L84.0 130.0 L96.0 146.0 L108.0 160.0" stroke="rgb(130,130,130)" stroke-width="3.0" stroke-opacity="0.60" fill="none" stroke-linecap="round" stroke-linejoin="round"/><path d="M80.0 133.0 L86.0 140.0 L90.0 146.0" stroke="rgb(99,99,99)" stroke-width="4.0" stroke-opacity="0.60" fill="none" stroke-linecap="round" stroke-linejoin="round"/><path d="M92.0 150.0 L102.0 164.0 L112.0 178.0 L118.0 187.0" stroke="rgb(198,198,198)" stroke-width="3.0" stroke-opacity="0.70" fill="none" stroke-linecap="round" stroke-linejoin="round"/><path d="M126.0 146.0 L140.0 154.0 L154.0 160.0 L166.0 163.0" stroke="rgb(204,204,204)" stroke-width="4.0" stroke-opacity="0.70" fill="none" stroke-linecap="round" stroke-linejoin="round"/></g><g filter="url(#b1_2)"><path d="M45.0 11.5 L52.0 17.5 L60.0 25.5 L68.0 33.5 L76.0 41.5 L84.0 50.5 L90.0 58.5 L93.0 65.0" stroke="rgb(251,251,251)" stroke-width="3.0" stroke-opacity="0.85" fill="none" stroke-linecap="round" stroke-linejoin="round"/><path d="M137.0 137.0 L141.0 141.0 L145.0 145.0" stroke="rgb(251,251,251)" stroke-width="4.0" stroke-opacity="0.90" fill="none" stroke-linecap="round" stroke-linejoin="round"/><path d="M104.0 150.0 L116.0 162.0 L128.0 174.0" stroke="rgb(130,130,130)" stroke-width="3.0" stroke-opacity="0.60" fill="none" stroke-linecap="round" stroke-linejoin="round"/><path d="M118.0 150.0 L132.0 160.0 L146.0 166.0 L160.0 166.0" stroke="rgb(128,128,128)" stroke-width="3.0" stroke-opacity="0.60" fill="none" stroke-linecap="round" stroke-linejoin="round"/><path d="M108.0 172.0 L120.0 180.0 L132.0 182.0" stroke="rgb(128,128,128)" stroke-width="3.0" stroke-opacity="0.50" fill="none" stroke-linecap="round" stroke-linejoin="round"/></g></g></g></g><use href="#ct"/></g>
<rect x="230.8" y="31.1" width="7.0" height="152.1" fill="url(#cb1)" stroke="#262626" stroke-opacity="0.22" stroke-width="0.7"/>
<text transform="translate(254.2,183.2) rotate(-90)" font-size="13.5" font-weight="bold" fill="#262626" text-anchor="middle">0</text>
<text transform="translate(254.2,132.5) rotate(-90)" font-size="13.5" font-weight="bold" fill="#262626" text-anchor="middle">20</text>
<text transform="translate(254.2,81.8) rotate(-90)" font-size="13.5" font-weight="bold" fill="#262626" text-anchor="middle">40</text>
<text transform="translate(254.2,31.1) rotate(-90)" font-size="13.5" font-weight="bold" fill="#262626" text-anchor="middle">60</text>
<path d="M237.8 132.5 h-1.6M237.8 81.8 h-1.6" stroke="#262626" stroke-width="0.8" stroke-opacity="0.6" fill="none"/>
<rect x="445.2" y="33.8" width="6.7" height="145.7" fill="url(#cb2)" stroke="#262626" stroke-opacity="0.22" stroke-width="0.7"/>
<text transform="translate(467.9,143.4) rotate(-90)" font-size="13.5" font-weight="bold" fill="#262626" text-anchor="middle">0.005</text>
<text transform="translate(467.9,97.6) rotate(-90)" font-size="13.5" font-weight="bold" fill="#262626" text-anchor="middle">0.010</text>
<text transform="translate(467.9,51.8) rotate(-90)" font-size="13.5" font-weight="bold" fill="#262626" text-anchor="middle">0.015</text>
<path d="M451.9 143.4 h-1.6M451.9 97.6 h-1.6M451.9 51.8 h-1.6" stroke="#262626" stroke-width="0.8" stroke-opacity="0.6" fill="none"/>
<rect x="658.5" y="35.9" width="6.4" height="151.1" fill="url(#cb3)" stroke="#262626" stroke-opacity="0.22" stroke-width="0.7"/>
<text transform="translate(680.8,187.0) rotate(-90)" font-size="13.5" font-weight="bold" fill="#262626" text-anchor="middle">0.6</text>
<text transform="translate(680.8,126.6) rotate(-90)" font-size="13.5" font-weight="bold" fill="#262626" text-anchor="middle">1</text>
<text transform="translate(680.8,66.1) rotate(-90)" font-size="13.5" font-weight="bold" fill="#262626" text-anchor="middle">1.4</text>
<text transform="translate(680.8,35.9) rotate(-90)" font-size="13.5" font-weight="bold" fill="#262626" text-anchor="middle">1.6</text>
<path d="M664.9 126.6 h-1.6M664.9 66.1 h-1.6" stroke="#262626" stroke-width="0.8" stroke-opacity="0.6" fill="none"/>
<rect x="234.1" y="693.5" width="6.9" height="151.8" fill="url(#cb4)" stroke="#262626" stroke-opacity="0.22" stroke-width="0.7"/>
<text transform="translate(257.5,835.8) rotate(-90)" font-size="13.5" font-weight="bold" fill="#262626" text-anchor="middle">0</text>
<text transform="translate(257.5,788.4) rotate(-90)" font-size="13.5" font-weight="bold" fill="#262626" text-anchor="middle">50</text>
<text transform="translate(257.5,740.9) rotate(-90)" font-size="13.5" font-weight="bold" fill="#262626" text-anchor="middle">100</text>
<text transform="translate(257.5,693.5) rotate(-90)" font-size="13.5" font-weight="bold" fill="#262626" text-anchor="middle">150</text>
<path d="M241.0 835.8 h-1.6M241.0 788.4 h-1.6M241.0 740.9 h-1.6" stroke="#262626" stroke-width="0.8" stroke-opacity="0.6" fill="none"/>
<rect x="446.0" y="694.4" width="6.7" height="150.0" fill="url(#cb5)" stroke="#262626" stroke-opacity="0.22" stroke-width="0.7"/>
<text transform="translate(468.6,829.5) rotate(-90)" font-size="13.5" font-weight="bold" fill="#262626" text-anchor="middle">0</text>
<text transform="translate(468.6,762.0) rotate(-90)" font-size="13.5" font-weight="bold" fill="#262626" text-anchor="middle">0.02</text>
<text transform="translate(468.6,694.4) rotate(-90)" font-size="13.5" font-weight="bold" fill="#262626" text-anchor="middle">0.04</text>
<path d="M452.7 829.5 h-1.6M452.7 762.0 h-1.6" stroke="#262626" stroke-width="0.8" stroke-opacity="0.6" fill="none"/>
<rect x="654.9" y="692.1" width="6.8" height="151.1" fill="url(#cb6)" stroke="#262626" stroke-opacity="0.22" stroke-width="0.7"/>
<text transform="translate(678.0,843.2) rotate(-90)" font-size="13.5" font-weight="bold" fill="#262626" text-anchor="middle">-0.2</text>
<text transform="translate(678.0,792.8) rotate(-90)" font-size="13.5" font-weight="bold" fill="#262626" text-anchor="middle">0</text>
<text transform="translate(678.0,742.5) rotate(-90)" font-size="13.5" font-weight="bold" fill="#262626" text-anchor="middle">0.2</text>
<text transform="translate(678.0,692.1) rotate(-90)" font-size="13.5" font-weight="bold" fill="#262626" text-anchor="middle">0.4</text>
<path d="M661.7 792.8 h-1.6M661.7 742.5 h-1.6" stroke="#262626" stroke-width="0.8" stroke-opacity="0.6" fill="none"/>
<text transform="translate(225.2,101.5) rotate(-90)" font-size="14" font-weight="bold" fill="#000" text-anchor="middle"><tspan font-style="italic">m</tspan><tspan font-style="italic" font-size="8.5" dy="4.5">b</tspan><tspan dy="-4.5"> [m/yr]</tspan></text>
<text transform="translate(438.6,101.6) rotate(-90)" font-size="14" font-weight="bold" fill="#000" text-anchor="middle"><tspan font-style="italic">u</tspan>* [m/s]</text>
<text transform="translate(651.6,101.6) rotate(-90)" font-size="14" font-weight="bold" fill="#000" text-anchor="middle">Δ<tspan font-style="italic">T</tspan> [°C]</text>
<text transform="translate(226.3,763.9) rotate(-90)" font-size="14" font-weight="bold" fill="#000" text-anchor="middle"><tspan font-style="italic">δ m</tspan><tspan font-style="italic" font-size="8.5" dy="4.5">b</tspan><tspan dy="-4.5"> [m/yr]</tspan></text>
<text transform="translate(436.6,768.6) rotate(-90)" font-size="14" font-weight="bold" fill="#000" text-anchor="middle"><tspan font-style="italic">δ u</tspan>* [m/s]</text>
<text transform="translate(645.6,764.2) rotate(-90)" font-size="14" font-weight="bold" fill="#000" text-anchor="middle"><tspan font-style="italic">δ</tspan>(<tspan font-style="italic">ΔT</tspan>) [°C]</text>
<path d="M63.5 27.5 V226.5 H237.5 M63.5 27.5 h2.5M63.5 82.8 h2.5M63.5 138.1 h2.5M63.5 193.4 h2.5M70.5 226.5 v-2.5M137.3 226.5 v-2.5M204.2 226.5 v-2.5" stroke="#262626" stroke-width="1" fill="none"/>
<path d="M276.5 27.5 V226.5 H450.5 M276.5 27.5 h2.5M276.5 82.8 h2.5M276.5 138.1 h2.5M276.5 193.4 h2.5M283.5 226.5 v-2.5M350.4 226.5 v-2.5M417.2 226.5 v-2.5" stroke="#262626" stroke-width="1" fill="none"/>
<path d="M486.5 27.5 V226.5 H660.5 M486.5 27.5 h2.5M486.5 82.8 h2.5M486.5 138.1 h2.5M486.5 193.4 h2.5M493.5 226.5 v-2.5M560.4 226.5 v-2.5M627.2 226.5 v-2.5" stroke="#262626" stroke-width="1" fill="none"/>
<path d="M63.5 248.5 V447.5 H237.5 M63.5 248.5 h2.5M63.5 303.8 h2.5M63.5 359.1 h2.5M63.5 414.4 h2.5M70.5 447.5 v-2.5M137.3 447.5 v-2.5M204.2 447.5 v-2.5" stroke="#262626" stroke-width="1" fill="none"/>
<path d="M276.5 248.5 V447.5 H450.5 M276.5 248.5 h2.5M276.5 303.8 h2.5M276.5 359.1 h2.5M276.5 414.4 h2.5M283.5 447.5 v-2.5M350.4 447.5 v-2.5M417.2 447.5 v-2.5" stroke="#262626" stroke-width="1" fill="none"/>
<path d="M486.5 248.5 V447.5 H660.5 M486.5 248.5 h2.5M486.5 303.8 h2.5M486.5 359.1 h2.5M486.5 414.4 h2.5M493.5 447.5 v-2.5M560.4 447.5 v-2.5M627.2 447.5 v-2.5" stroke="#262626" stroke-width="1" fill="none"/>
<path d="M63.5 469.5 V668.0 H237.5 M63.5 469.5 h2.5M63.5 524.7 h2.5M63.5 579.8 h2.5M63.5 635.0 h2.5M70.5 668.0 v-2.5M137.3 668.0 v-2.5M204.2 668.0 v-2.5" stroke="#262626" stroke-width="1" fill="none"/>
<path d="M276.5 469.5 V668.0 H450.5 M276.5 469.5 h2.5M276.5 524.7 h2.5M276.5 579.8 h2.5M276.5 635.0 h2.5M283.5 668.0 v-2.5M350.4 668.0 v-2.5M417.2 668.0 v-2.5" stroke="#262626" stroke-width="1" fill="none"/>
<path d="M486.5 469.5 V668.0 H660.5 M486.5 469.5 h2.5M486.5 524.7 h2.5M486.5 579.8 h2.5M486.5 635.0 h2.5M493.5 668.0 v-2.5M560.4 668.0 v-2.5M627.2 668.0 v-2.5" stroke="#262626" stroke-width="1" fill="none"/>
<path d="M63.5 688.5 V887.0 H237.5 M63.5 688.5 h2.5M63.5 743.7 h2.5M63.5 798.8 h2.5M63.5 854.0 h2.5M70.5 887.0 v-2.5M137.3 887.0 v-2.5M204.2 887.0 v-2.5" stroke="#262626" stroke-width="1" fill="none"/>
<path d="M276.5 688.5 V887.0 H450.5 M276.5 688.5 h2.5M276.5 743.7 h2.5M276.5 798.8 h2.5M276.5 854.0 h2.5M283.5 887.0 v-2.5M350.4 887.0 v-2.5M417.2 887.0 v-2.5" stroke="#262626" stroke-width="1" fill="none"/>
<path d="M486.5 688.5 V887.0 H660.5 M486.5 688.5 h2.5M486.5 743.7 h2.5M486.5 798.8 h2.5M486.5 854.0 h2.5M493.5 887.0 v-2.5M560.4 887.0 v-2.5M627.2 887.0 v-2.5" stroke="#262626" stroke-width="1" fill="none"/>
<text x="58.9" y="33.7" font-size="17" font-weight="bold" fill="#262626" text-anchor="end">81.2</text>
<text x="58.9" y="89.0" font-size="17" font-weight="bold" fill="#262626" text-anchor="end">81</text>
<text x="58.9" y="144.3" font-size="17" font-weight="bold" fill="#262626" text-anchor="end">80.8</text>
<text x="58.9" y="199.6" font-size="17" font-weight="bold" fill="#262626" text-anchor="end">80.6</text>
<text x="58.9" y="254.7" font-size="17" font-weight="bold" fill="#262626" text-anchor="end">81.2</text>
<text x="58.9" y="310.0" font-size="17" font-weight="bold" fill="#262626" text-anchor="end">81</text>
<text x="58.9" y="365.3" font-size="17" font-weight="bold" fill="#262626" text-anchor="end">80.8</text>
<text x="58.9" y="420.6" font-size="17" font-weight="bold" fill="#262626" text-anchor="end">80.6</text>
<text x="58.9" y="475.7" font-size="17" font-weight="bold" fill="#262626" text-anchor="end">81.2</text>
<text x="58.9" y="530.9" font-size="17" font-weight="bold" fill="#262626" text-anchor="end">81</text>
<text x="58.9" y="586.0" font-size="17" font-weight="bold" fill="#262626" text-anchor="end">80.8</text>
<text x="58.9" y="641.2" font-size="17" font-weight="bold" fill="#262626" text-anchor="end">80.6</text>
<text x="58.9" y="694.7" font-size="17" font-weight="bold" fill="#262626" text-anchor="end">81.2</text>
<text x="58.9" y="749.9" font-size="17" font-weight="bold" fill="#262626" text-anchor="end">81</text>
<text x="58.9" y="805.0" font-size="17" font-weight="bold" fill="#262626" text-anchor="end">80.8</text>
<text x="58.9" y="860.2" font-size="17" font-weight="bold" fill="#262626" text-anchor="end">80.6</text>
<text x="70.5" y="907.1" font-size="17" font-weight="bold" fill="#262626" text-anchor="middle">298</text>
<text x="137.3" y="907.1" font-size="17" font-weight="bold" fill="#262626" text-anchor="middle">299</text>
<text x="204.2" y="907.1" font-size="17" font-weight="bold" fill="#262626" text-anchor="middle">300</text>
<text x="283.5" y="907.1" font-size="17" font-weight="bold" fill="#262626" text-anchor="middle">298</text>
<text x="350.4" y="907.1" font-size="17" font-weight="bold" fill="#262626" text-anchor="middle">299</text>
<text x="417.2" y="907.1" font-size="17" font-weight="bold" fill="#262626" text-anchor="middle">300</text>
<text x="493.5" y="907.1" font-size="17" font-weight="bold" fill="#262626" text-anchor="middle">298</text>
<text x="560.4" y="907.1" font-size="17" font-weight="bold" fill="#262626" text-anchor="middle">299</text>
<text x="627.2" y="907.1" font-size="17" font-weight="bold" fill="#262626" text-anchor="middle">300</text>
<text transform="translate(154.75,16.90) scale(1,1.07)" font-size="21.2" font-weight="bold" fill="#000" text-anchor="middle">Basal melt rate</text>
<text transform="translate(374.90,15.30) scale(1,1.07)" font-size="21.2" font-weight="bold" fill="#000" text-anchor="middle">Friction velocity</text>
<text transform="translate(579.50,15.30) scale(1,1.07)" font-size="21.2" font-weight="bold" fill="#000" text-anchor="middle">Thermal driving</text>
<text transform="translate(323.7,937.9) scale(1,1.06)" font-size="21.3" font-weight="bold" fill="#000" text-anchor="middle">Longitude</text>
<text transform="translate(15.9,456.5) rotate(-90)" font-size="21.4" font-weight="bold" fill="#000" text-anchor="middle">Latitude</text>
<text x="79.3" y="201.0" font-size="28.2" font-weight="bold" fill="#000">(a)</text>
<text x="292.3" y="201.0" font-size="28.2" font-weight="bold" fill="#000">(e)</text>
<text x="502.3" y="201.0" font-size="28.2" font-weight="bold" fill="#000">(i)</text>
<text x="79.3" y="422.0" font-size="28.2" font-weight="bold" fill="#000">(b)</text>
<text x="292.3" y="422.0" font-size="28.2" font-weight="bold" fill="#000">(f)</text>
<text x="502.3" y="422.0" font-size="28.2" font-weight="bold" fill="#000">(j)</text>
<text x="79.3" y="643.0" font-size="28.2" font-weight="bold" fill="#000">(c)</text>
<text x="292.3" y="643.0" font-size="28.2" font-weight="bold" fill="#000">(g)</text>
<text x="502.3" y="643.0" font-size="28.2" font-weight="bold" fill="#000">(k)</text>
<text x="79.3" y="862.0" font-size="28.2" font-weight="bold" fill="#000">(d)</text>
<text x="292.3" y="862.0" font-size="28.2" font-weight="bold" fill="#000">(h)</text>
<text x="502.3" y="862.0" font-size="28.2" font-weight="bold" fill="#000">(l)</text>
<path d="M1 236.5 H685" stroke="#4f6fe0" stroke-width="1" stroke-dasharray="4.4 4.53"/>
<text x="327.0" y="357.8" font-size="13.6" font-weight="bold" fill="#1424a4">150</text>
<text x="350.8" y="398.6" font-size="13.6" font-weight="bold" fill="#1424a4">250</text>
<text x="379.3" y="416.6" font-size="13.6" font-weight="bold" fill="#1424a4">350</text>
<text x="413.5" y="410.9" font-size="13.6" font-weight="bold" fill="#1424a4">450</text>
</svg></body></html>
